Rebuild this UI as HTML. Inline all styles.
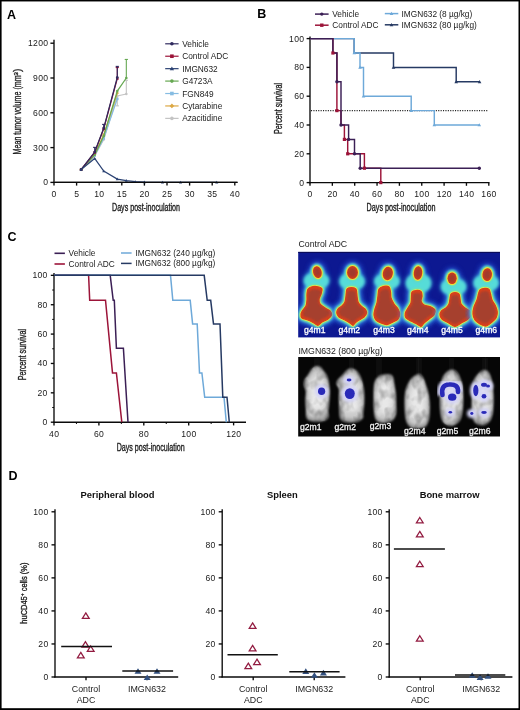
<!DOCTYPE html>
<html><head><meta charset="utf-8"><style>
html,body{margin:0;padding:0;background:#fff;overflow:hidden;width:520px;height:710px;}
svg{display:block;font-family:"Liberation Sans", sans-serif;filter:blur(0.3px);}
</style></head><body>
<svg width="520" height="710" viewBox="0 0 520 710">
<rect width="520" height="710" fill="#fff"/>
<text x="7.00" y="18.80" font-size="12.5" text-anchor="start" font-weight="bold" fill="#000" >A</text>
<text x="257.30" y="17.70" font-size="12.5" text-anchor="start" font-weight="bold" fill="#000" >B</text>
<text x="7.60" y="241.10" font-size="12.5" text-anchor="start" font-weight="bold" fill="#000" >C</text>
<text x="8.50" y="480.20" font-size="12.5" text-anchor="start" font-weight="bold" fill="#000" >D</text>
<line x1="54.00" y1="39.80" x2="54.00" y2="183.00" stroke="#0a0a0a" stroke-width="1.35" />
<line x1="53.40" y1="182.40" x2="237.50" y2="182.40" stroke="#0a0a0a" stroke-width="1.35" />
<line x1="50.40" y1="182.40" x2="54.00" y2="182.40" stroke="#0a0a0a" stroke-width="1.35" />
<text x="48.30" y="185.40" font-size="8.6" letter-spacing="0.3" text-anchor="end" fill="#1a1a1a">0</text>
<line x1="50.40" y1="147.60" x2="54.00" y2="147.60" stroke="#0a0a0a" stroke-width="1.35" />
<text x="48.30" y="150.60" font-size="8.6" letter-spacing="0.3" text-anchor="end" fill="#1a1a1a">300</text>
<line x1="50.40" y1="112.80" x2="54.00" y2="112.80" stroke="#0a0a0a" stroke-width="1.35" />
<text x="48.30" y="115.80" font-size="8.6" letter-spacing="0.3" text-anchor="end" fill="#1a1a1a">600</text>
<line x1="50.40" y1="78.00" x2="54.00" y2="78.00" stroke="#0a0a0a" stroke-width="1.35" />
<text x="48.30" y="81.00" font-size="8.6" letter-spacing="0.3" text-anchor="end" fill="#1a1a1a">900</text>
<line x1="50.40" y1="43.20" x2="54.00" y2="43.20" stroke="#0a0a0a" stroke-width="1.35" />
<text x="48.30" y="46.20" font-size="8.6" letter-spacing="0.3" text-anchor="end" fill="#1a1a1a">1200</text>
<line x1="54.00" y1="182.40" x2="54.00" y2="185.60" stroke="#0a0a0a" stroke-width="1.35" />
<text x="54.15" y="196.80" font-size="8.6" letter-spacing="0.3" text-anchor="middle" fill="#1a1a1a">0</text>
<line x1="76.60" y1="182.40" x2="76.60" y2="185.60" stroke="#0a0a0a" stroke-width="1.35" />
<text x="76.75" y="196.80" font-size="8.6" letter-spacing="0.3" text-anchor="middle" fill="#1a1a1a">5</text>
<line x1="99.20" y1="182.40" x2="99.20" y2="185.60" stroke="#0a0a0a" stroke-width="1.35" />
<text x="99.35" y="196.80" font-size="8.6" letter-spacing="0.3" text-anchor="middle" fill="#1a1a1a">10</text>
<line x1="121.80" y1="182.40" x2="121.80" y2="185.60" stroke="#0a0a0a" stroke-width="1.35" />
<text x="121.95" y="196.80" font-size="8.6" letter-spacing="0.3" text-anchor="middle" fill="#1a1a1a">15</text>
<line x1="144.40" y1="182.40" x2="144.40" y2="185.60" stroke="#0a0a0a" stroke-width="1.35" />
<text x="144.55" y="196.80" font-size="8.6" letter-spacing="0.3" text-anchor="middle" fill="#1a1a1a">20</text>
<line x1="167.00" y1="182.40" x2="167.00" y2="185.60" stroke="#0a0a0a" stroke-width="1.35" />
<text x="167.15" y="196.80" font-size="8.6" letter-spacing="0.3" text-anchor="middle" fill="#1a1a1a">25</text>
<line x1="189.60" y1="182.40" x2="189.60" y2="185.60" stroke="#0a0a0a" stroke-width="1.35" />
<text x="189.75" y="196.80" font-size="8.6" letter-spacing="0.3" text-anchor="middle" fill="#1a1a1a">30</text>
<line x1="212.20" y1="182.40" x2="212.20" y2="185.60" stroke="#0a0a0a" stroke-width="1.35" />
<text x="212.35" y="196.80" font-size="8.6" letter-spacing="0.3" text-anchor="middle" fill="#1a1a1a">35</text>
<line x1="234.80" y1="182.40" x2="234.80" y2="185.60" stroke="#0a0a0a" stroke-width="1.35" />
<text x="234.95" y="196.80" font-size="8.6" letter-spacing="0.3" text-anchor="middle" fill="#1a1a1a">40</text>
<text x="112.00" y="211.00" font-size="10.3" text-anchor="start" font-weight="normal" fill="#1e1e1e" stroke="#1e1e1e" stroke-width="0.35" textLength="68" lengthAdjust="spacingAndGlyphs" >Days post-inoculation</text>
<text x="0" y="0" font-size="10.4" fill="#1e1e1e" stroke="#1e1e1e" stroke-width="0.35" transform="translate(21.2 154.4) rotate(-90)"><tspan textLength="79" lengthAdjust="spacingAndGlyphs">Mean tumor volume (mm</tspan><tspan font-size="6" dy="-3.5">3</tspan><tspan dy="3.5">)</tspan></text>
<polyline points="81.12,169.64 94.68,155.95 103.72,139.48 117.28,95.98 126.32,94.01" fill="none" stroke="#c4c4c4" stroke-width="1.25" stroke-linejoin="miter" />
<circle cx="81.12" cy="169.64" r="1.30" fill="#c4c4c4"/>
<circle cx="94.68" cy="155.95" r="1.30" fill="#c4c4c4"/>
<circle cx="103.72" cy="139.48" r="1.30" fill="#c4c4c4"/>
<circle cx="117.28" cy="95.98" r="1.30" fill="#c4c4c4"/>
<circle cx="126.32" cy="94.01" r="1.30" fill="#c4c4c4"/>
<line x1="117.28" y1="95.98" x2="117.28" y2="105.84" stroke="#c4c4c4" stroke-width="1.1" />
<line x1="115.68" y1="105.84" x2="118.88" y2="105.84" stroke="#c4c4c4" stroke-width="1.1" />
<line x1="126.32" y1="94.01" x2="126.32" y2="80.32" stroke="#c4c4c4" stroke-width="1.1" />
<line x1="124.72" y1="80.32" x2="127.92" y2="80.32" stroke="#c4c4c4" stroke-width="1.1" />
<polyline points="81.12,169.64 94.68,155.49 103.72,138.32 117.28,98.88" fill="none" stroke="#86bce2" stroke-width="1.25" stroke-linejoin="miter" />
<rect x="79.82" y="168.34" width="2.60" height="2.60" fill="#86bce2"/>
<rect x="93.38" y="154.19" width="2.60" height="2.60" fill="#86bce2"/>
<rect x="102.42" y="137.02" width="2.60" height="2.60" fill="#86bce2"/>
<rect x="115.98" y="97.58" width="2.60" height="2.60" fill="#86bce2"/>
<polyline points="81.12,169.64 94.68,154.56 103.72,134.84 117.28,93.08" fill="none" stroke="#dca844" stroke-width="1.25" stroke-linejoin="miter" />
<polygon points="81.12,167.95 82.81,169.64 81.12,171.33 79.43,169.64" fill="#dca844"/>
<polygon points="94.68,152.87 96.37,154.56 94.68,156.25 92.99,154.56" fill="#dca844"/>
<polygon points="103.72,133.15 105.41,134.84 103.72,136.53 102.03,134.84" fill="#dca844"/>
<polygon points="117.28,91.39 118.97,93.08 117.28,94.77 115.59,93.08" fill="#dca844"/>
<polyline points="81.12,169.64 94.68,154.79 103.72,136.00 117.28,91.11 126.32,78.00" fill="none" stroke="#66a852" stroke-width="1.25" stroke-linejoin="miter" />
<circle cx="81.12" cy="169.64" r="1.30" fill="#66a852"/>
<circle cx="94.68" cy="154.79" r="1.30" fill="#66a852"/>
<circle cx="103.72" cy="136.00" r="1.30" fill="#66a852"/>
<circle cx="117.28" cy="91.11" r="1.30" fill="#66a852"/>
<circle cx="126.32" cy="78.00" r="1.30" fill="#66a852"/>
<line x1="126.32" y1="78.00" x2="126.32" y2="59.44" stroke="#66a852" stroke-width="1.1" />
<line x1="124.72" y1="59.44" x2="127.92" y2="59.44" stroke="#66a852" stroke-width="1.1" />
<polyline points="81.12,169.64 94.68,152.47 103.72,128.81 117.28,78.58" fill="none" stroke="#9c1439" stroke-width="1.25" stroke-linejoin="miter" />
<rect x="79.82" y="168.34" width="2.60" height="2.60" fill="#9c1439"/>
<rect x="93.38" y="151.17" width="2.60" height="2.60" fill="#9c1439"/>
<rect x="102.42" y="127.51" width="2.60" height="2.60" fill="#9c1439"/>
<rect x="115.98" y="77.28" width="2.60" height="2.60" fill="#9c1439"/>
<line x1="117.28" y1="78.58" x2="117.28" y2="67.56" stroke="#9c1439" stroke-width="1.1" />
<line x1="115.68" y1="67.56" x2="118.88" y2="67.56" stroke="#9c1439" stroke-width="1.1" />
<polyline points="81.12,169.64 94.68,152.01 103.72,128.11 117.28,77.42" fill="none" stroke="#2f2a5e" stroke-width="1.25" stroke-linejoin="miter" />
<circle cx="81.12" cy="169.64" r="1.30" fill="#2f2a5e"/>
<circle cx="94.68" cy="152.01" r="1.30" fill="#2f2a5e"/>
<circle cx="103.72" cy="128.11" r="1.30" fill="#2f2a5e"/>
<circle cx="117.28" cy="77.42" r="1.30" fill="#2f2a5e"/>
<line x1="94.68" y1="152.01" x2="94.68" y2="147.37" stroke="#2f2a5e" stroke-width="1.1" />
<line x1="93.08" y1="147.37" x2="96.28" y2="147.37" stroke="#2f2a5e" stroke-width="1.1" />
<line x1="103.72" y1="128.11" x2="103.72" y2="124.40" stroke="#2f2a5e" stroke-width="1.1" />
<line x1="102.12" y1="124.40" x2="105.32" y2="124.40" stroke="#2f2a5e" stroke-width="1.1" />
<line x1="117.28" y1="77.42" x2="117.28" y2="66.40" stroke="#2f2a5e" stroke-width="1.1" />
<line x1="115.68" y1="66.40" x2="118.88" y2="66.40" stroke="#2f2a5e" stroke-width="1.1" />
<polyline points="81.12,169.64 94.68,158.50 103.72,171.15 117.28,179.15 126.32,180.66 135.36,181.70 144.40,182.17 162.48,182.28 180.56,182.28 216.72,182.28" fill="none" stroke="#2b4273" stroke-width="1.25" stroke-linejoin="miter" />
<polygon points="81.12,168.08 82.68,170.81 79.56,170.81" fill="#2b4273"/>
<polygon points="94.68,156.94 96.24,159.67 93.12,159.67" fill="#2b4273"/>
<polygon points="103.72,169.59 105.28,172.32 102.16,172.32" fill="#2b4273"/>
<polygon points="117.28,177.59 118.84,180.32 115.72,180.32" fill="#2b4273"/>
<polygon points="126.32,179.10 127.88,181.83 124.76,181.83" fill="#2b4273"/>
<polygon points="135.36,180.14 136.92,182.87 133.80,182.87" fill="#2b4273"/>
<polygon points="144.40,180.61 145.96,183.34 142.84,183.34" fill="#2b4273"/>
<polygon points="162.48,180.72 164.04,183.45 160.92,183.45" fill="#2b4273"/>
<polygon points="180.56,180.72 182.12,183.45 179.00,183.45" fill="#2b4273"/>
<polygon points="216.72,180.72 218.28,183.45 215.16,183.45" fill="#2b4273"/>
<line x1="55.00" y1="182.40" x2="237.50" y2="182.40" stroke="#0a0a0a" stroke-width="1.35" />
<line x1="165.20" y1="43.80" x2="178.60" y2="43.80" stroke="#2f2a5e" stroke-width="1.2" />
<circle cx="171.90" cy="43.80" r="1.80" fill="#2f2a5e"/>
<text x="182.20" y="46.80" font-size="8.3" text-anchor="start" font-weight="normal" fill="#222" >Vehicle</text>
<line x1="165.20" y1="56.23" x2="178.60" y2="56.23" stroke="#9c1439" stroke-width="1.2" />
<rect x="170.10" y="54.43" width="3.60" height="3.60" fill="#9c1439"/>
<text x="182.20" y="59.23" font-size="8.3" text-anchor="start" font-weight="normal" fill="#222" >Control ADC</text>
<line x1="165.20" y1="68.66" x2="178.60" y2="68.66" stroke="#2b4273" stroke-width="1.2" />
<polygon points="171.90,66.50 174.06,70.28 169.74,70.28" fill="#2b4273"/>
<text x="182.20" y="71.66" font-size="8.3" text-anchor="start" font-weight="normal" fill="#222" >IMGN632</text>
<line x1="165.20" y1="81.09" x2="178.60" y2="81.09" stroke="#66a852" stroke-width="1.2" />
<circle cx="171.90" cy="81.09" r="1.80" fill="#66a852"/>
<text x="182.20" y="84.09" font-size="8.3" text-anchor="start" font-weight="normal" fill="#222" >G4723A</text>
<line x1="165.20" y1="93.52" x2="178.60" y2="93.52" stroke="#86bce2" stroke-width="1.2" />
<rect x="170.10" y="91.72" width="3.60" height="3.60" fill="#86bce2"/>
<text x="182.20" y="96.52" font-size="8.3" text-anchor="start" font-weight="normal" fill="#222" >FGN849</text>
<line x1="165.20" y1="105.95" x2="178.60" y2="105.95" stroke="#dca844" stroke-width="1.2" />
<polygon points="171.90,103.61 174.24,105.95 171.90,108.29 169.56,105.95" fill="#dca844"/>
<text x="182.20" y="108.95" font-size="8.3" text-anchor="start" font-weight="normal" fill="#222" >Cytarabine</text>
<line x1="165.20" y1="118.38" x2="178.60" y2="118.38" stroke="#c4c4c4" stroke-width="1.2" />
<circle cx="171.90" cy="118.38" r="1.80" fill="#c4c4c4"/>
<text x="182.20" y="121.38" font-size="8.3" text-anchor="start" font-weight="normal" fill="#222" >Azacitidine</text>
<line x1="310.00" y1="36.40" x2="310.00" y2="183.20" stroke="#0a0a0a" stroke-width="1.35" />
<line x1="309.40" y1="182.60" x2="489.50" y2="182.60" stroke="#0a0a0a" stroke-width="1.35" />
<line x1="306.60" y1="182.60" x2="310.00" y2="182.60" stroke="#0a0a0a" stroke-width="1.35" />
<text x="304.30" y="185.60" font-size="8.6" letter-spacing="0.3" text-anchor="end" fill="#1a1a1a">0</text>
<line x1="306.60" y1="153.80" x2="310.00" y2="153.80" stroke="#0a0a0a" stroke-width="1.35" />
<text x="304.30" y="156.80" font-size="8.6" letter-spacing="0.3" text-anchor="end" fill="#1a1a1a">20</text>
<line x1="306.60" y1="125.00" x2="310.00" y2="125.00" stroke="#0a0a0a" stroke-width="1.35" />
<text x="304.30" y="128.00" font-size="8.6" letter-spacing="0.3" text-anchor="end" fill="#1a1a1a">40</text>
<line x1="306.60" y1="96.20" x2="310.00" y2="96.20" stroke="#0a0a0a" stroke-width="1.35" />
<text x="304.30" y="99.20" font-size="8.6" letter-spacing="0.3" text-anchor="end" fill="#1a1a1a">60</text>
<line x1="306.60" y1="67.40" x2="310.00" y2="67.40" stroke="#0a0a0a" stroke-width="1.35" />
<text x="304.30" y="70.40" font-size="8.6" letter-spacing="0.3" text-anchor="end" fill="#1a1a1a">80</text>
<line x1="306.60" y1="38.60" x2="310.00" y2="38.60" stroke="#0a0a0a" stroke-width="1.35" />
<text x="304.30" y="41.60" font-size="8.6" letter-spacing="0.3" text-anchor="end" fill="#1a1a1a">100</text>
<line x1="310.00" y1="182.60" x2="310.00" y2="185.80" stroke="#0a0a0a" stroke-width="1.35" />
<text x="310.15" y="196.80" font-size="8.6" letter-spacing="0.3" text-anchor="middle" fill="#1a1a1a">0</text>
<line x1="332.35" y1="182.60" x2="332.35" y2="185.80" stroke="#0a0a0a" stroke-width="1.35" />
<text x="332.50" y="196.80" font-size="8.6" letter-spacing="0.3" text-anchor="middle" fill="#1a1a1a">20</text>
<line x1="354.70" y1="182.60" x2="354.70" y2="185.80" stroke="#0a0a0a" stroke-width="1.35" />
<text x="354.85" y="196.80" font-size="8.6" letter-spacing="0.3" text-anchor="middle" fill="#1a1a1a">40</text>
<line x1="377.05" y1="182.60" x2="377.05" y2="185.80" stroke="#0a0a0a" stroke-width="1.35" />
<text x="377.20" y="196.80" font-size="8.6" letter-spacing="0.3" text-anchor="middle" fill="#1a1a1a">60</text>
<line x1="399.40" y1="182.60" x2="399.40" y2="185.80" stroke="#0a0a0a" stroke-width="1.35" />
<text x="399.55" y="196.80" font-size="8.6" letter-spacing="0.3" text-anchor="middle" fill="#1a1a1a">80</text>
<line x1="421.75" y1="182.60" x2="421.75" y2="185.80" stroke="#0a0a0a" stroke-width="1.35" />
<text x="421.90" y="196.80" font-size="8.6" letter-spacing="0.3" text-anchor="middle" fill="#1a1a1a">100</text>
<line x1="444.10" y1="182.60" x2="444.10" y2="185.80" stroke="#0a0a0a" stroke-width="1.35" />
<text x="444.25" y="196.80" font-size="8.6" letter-spacing="0.3" text-anchor="middle" fill="#1a1a1a">120</text>
<line x1="466.45" y1="182.60" x2="466.45" y2="185.80" stroke="#0a0a0a" stroke-width="1.35" />
<text x="466.60" y="196.80" font-size="8.6" letter-spacing="0.3" text-anchor="middle" fill="#1a1a1a">140</text>
<line x1="488.80" y1="182.60" x2="488.80" y2="185.80" stroke="#0a0a0a" stroke-width="1.35" />
<text x="488.95" y="196.80" font-size="8.6" letter-spacing="0.3" text-anchor="middle" fill="#1a1a1a">160</text>
<text x="366.60" y="210.90" font-size="10.3" text-anchor="start" font-weight="normal" fill="#1e1e1e" stroke="#1e1e1e" stroke-width="0.35" textLength="68.8" lengthAdjust="spacingAndGlyphs" >Days post-inoculation</text>
<text x="282.00" y="134.00" font-size="10.0" text-anchor="start" font-weight="normal" fill="#1e1e1e" stroke="#1e1e1e" stroke-width="0.35" textLength="51" lengthAdjust="spacingAndGlyphs" transform="rotate(-90 282.00 134.00)">Percent survival</text>
<line x1="311.00" y1="110.60" x2="487.8" y2="110.60" stroke="#222" stroke-width="1.1" stroke-dasharray="1.1 1.3"/>
<polyline points="310.00,38.60 354.20,38.60 354.20,53.00 393.50,53.00 393.50,67.40 456.20,67.40 456.20,81.80 479.60,81.80" fill="none" stroke="#263a63" stroke-width="1.45" stroke-linejoin="miter" />
<polyline points="310.00,38.60 354.20,38.60 354.20,53.00 360.00,53.00 360.00,67.40 363.50,67.40 363.50,96.20 411.20,96.20 411.20,110.60 434.30,110.60 434.30,125.00 479.30,125.00" fill="none" stroke="#6ea9d9" stroke-width="1.45" stroke-linejoin="miter" />
<polyline points="310.00,38.60 332.90,38.60 332.90,53.00 336.90,53.00 336.90,110.60 341.00,110.60 341.00,125.00 344.40,125.00 344.40,139.40 347.70,139.40 347.70,153.80 364.40,153.80 364.40,168.20 380.80,168.20 380.80,182.60" fill="none" stroke="#9c1439" stroke-width="1.45" stroke-linejoin="miter" />
<polyline points="310.00,38.60 332.90,38.60 332.90,53.00 336.90,53.00 336.90,81.80 341.00,81.80 341.00,125.00 348.60,125.00 348.60,139.40 354.50,139.40 354.50,153.80 360.20,153.80 360.20,168.20 479.30,168.20" fill="none" stroke="#3b1f55" stroke-width="1.45" stroke-linejoin="miter" />
<polygon points="393.50,65.60 395.30,68.75 391.70,68.75" fill="#263a63"/>
<polygon points="456.20,80.00 458.00,83.15 454.40,83.15" fill="#263a63"/>
<polygon points="479.60,80.00 481.40,83.15 477.80,83.15" fill="#263a63"/>
<polygon points="354.20,51.20 356.00,54.35 352.40,54.35" fill="#6ea9d9"/>
<polygon points="360.00,65.60 361.80,68.75 358.20,68.75" fill="#6ea9d9"/>
<polygon points="363.50,94.40 365.30,97.55 361.70,97.55" fill="#6ea9d9"/>
<polygon points="411.20,108.80 413.00,111.95 409.40,111.95" fill="#6ea9d9"/>
<polygon points="434.30,123.20 436.10,126.35 432.50,126.35" fill="#6ea9d9"/>
<polygon points="479.30,123.20 481.10,126.35 477.50,126.35" fill="#6ea9d9"/>
<circle cx="336.90" cy="81.80" r="1.70" fill="#3b1f55"/>
<circle cx="341.00" cy="125.00" r="1.70" fill="#3b1f55"/>
<circle cx="348.60" cy="139.40" r="1.70" fill="#3b1f55"/>
<circle cx="354.50" cy="153.80" r="1.70" fill="#3b1f55"/>
<circle cx="360.20" cy="168.20" r="1.70" fill="#3b1f55"/>
<circle cx="479.30" cy="168.20" r="1.70" fill="#3b1f55"/>
<rect x="331.30" y="51.40" width="3.20" height="3.20" fill="#9c1439"/>
<rect x="335.30" y="109.00" width="3.20" height="3.20" fill="#9c1439"/>
<rect x="342.80" y="137.80" width="3.20" height="3.20" fill="#9c1439"/>
<rect x="346.10" y="152.20" width="3.20" height="3.20" fill="#9c1439"/>
<rect x="362.80" y="166.60" width="3.20" height="3.20" fill="#9c1439"/>
<rect x="379.20" y="181.00" width="3.20" height="3.20" fill="#9c1439"/>
<line x1="315.00" y1="14.10" x2="328.60" y2="14.10" stroke="#3b1f55" stroke-width="1.5" />
<circle cx="321.80" cy="14.10" r="1.70" fill="#3b1f55"/>
<text x="332.30" y="17.10" font-size="8.3" text-anchor="start" font-weight="normal" fill="#222" >Vehicle</text>
<line x1="315.00" y1="25.20" x2="328.60" y2="25.20" stroke="#9c1439" stroke-width="1.5" />
<rect x="320.10" y="23.50" width="3.40" height="3.40" fill="#9c1439"/>
<text x="332.30" y="28.20" font-size="8.3" text-anchor="start" font-weight="normal" fill="#222" >Control ADC</text>
<line x1="384.80" y1="13.60" x2="398.30" y2="13.60" stroke="#6ea9d9" stroke-width="1.5" />
<polygon points="391.50,11.80 393.30,14.95 389.70,14.95" fill="#6ea9d9"/>
<text x="401.50" y="16.60" font-size="8.3" text-anchor="start" font-weight="normal" fill="#222" >IMGN632 (8 µg/kg)</text>
<line x1="384.80" y1="24.80" x2="398.30" y2="24.80" stroke="#263a63" stroke-width="1.5" />
<polygon points="391.50,23.00 393.30,26.15 389.70,26.15" fill="#263a63"/>
<text x="401.50" y="27.80" font-size="8.3" text-anchor="start" font-weight="normal" fill="#222" >IMGN632 (80 µg/kg)</text>
<line x1="54.00" y1="272.95" x2="54.00" y2="422.80" stroke="#0a0a0a" stroke-width="1.35" />
<line x1="53.40" y1="422.20" x2="246.00" y2="422.20" stroke="#0a0a0a" stroke-width="1.35" />
<line x1="50.80" y1="422.20" x2="54.00" y2="422.20" stroke="#0a0a0a" stroke-width="1.35" />
<text x="47.70" y="425.20" font-size="8.6" letter-spacing="0.3" text-anchor="end" fill="#1a1a1a">0</text>
<line x1="52.20" y1="407.51" x2="54.00" y2="407.51" stroke="#0a0a0a" stroke-width="1.0" />
<line x1="50.80" y1="392.83" x2="54.00" y2="392.83" stroke="#0a0a0a" stroke-width="1.35" />
<text x="47.70" y="395.83" font-size="8.6" letter-spacing="0.3" text-anchor="end" fill="#1a1a1a">20</text>
<line x1="52.20" y1="378.14" x2="54.00" y2="378.14" stroke="#0a0a0a" stroke-width="1.0" />
<line x1="50.80" y1="363.46" x2="54.00" y2="363.46" stroke="#0a0a0a" stroke-width="1.35" />
<text x="47.70" y="366.46" font-size="8.6" letter-spacing="0.3" text-anchor="end" fill="#1a1a1a">40</text>
<line x1="52.20" y1="348.77" x2="54.00" y2="348.77" stroke="#0a0a0a" stroke-width="1.0" />
<line x1="50.80" y1="334.09" x2="54.00" y2="334.09" stroke="#0a0a0a" stroke-width="1.35" />
<text x="47.70" y="337.09" font-size="8.6" letter-spacing="0.3" text-anchor="end" fill="#1a1a1a">60</text>
<line x1="52.20" y1="319.40" x2="54.00" y2="319.40" stroke="#0a0a0a" stroke-width="1.0" />
<line x1="50.80" y1="304.72" x2="54.00" y2="304.72" stroke="#0a0a0a" stroke-width="1.35" />
<text x="47.70" y="307.72" font-size="8.6" letter-spacing="0.3" text-anchor="end" fill="#1a1a1a">80</text>
<line x1="52.20" y1="290.03" x2="54.00" y2="290.03" stroke="#0a0a0a" stroke-width="1.0" />
<line x1="50.80" y1="275.35" x2="54.00" y2="275.35" stroke="#0a0a0a" stroke-width="1.35" />
<text x="47.70" y="278.35" font-size="8.6" letter-spacing="0.3" text-anchor="end" fill="#1a1a1a">100</text>
<line x1="54.00" y1="422.20" x2="54.00" y2="425.40" stroke="#0a0a0a" stroke-width="1.35" />
<text x="54.15" y="436.80" font-size="8.6" letter-spacing="0.3" text-anchor="middle" fill="#1a1a1a">40</text>
<line x1="76.45" y1="422.20" x2="76.45" y2="424.00" stroke="#0a0a0a" stroke-width="1.0" />
<line x1="98.90" y1="422.20" x2="98.90" y2="425.40" stroke="#0a0a0a" stroke-width="1.35" />
<text x="99.05" y="436.80" font-size="8.6" letter-spacing="0.3" text-anchor="middle" fill="#1a1a1a">60</text>
<line x1="121.35" y1="422.20" x2="121.35" y2="424.00" stroke="#0a0a0a" stroke-width="1.0" />
<line x1="143.80" y1="422.20" x2="143.80" y2="425.40" stroke="#0a0a0a" stroke-width="1.35" />
<text x="143.95" y="436.80" font-size="8.6" letter-spacing="0.3" text-anchor="middle" fill="#1a1a1a">80</text>
<line x1="166.25" y1="422.20" x2="166.25" y2="424.00" stroke="#0a0a0a" stroke-width="1.0" />
<line x1="188.70" y1="422.20" x2="188.70" y2="425.40" stroke="#0a0a0a" stroke-width="1.35" />
<text x="188.85" y="436.80" font-size="8.6" letter-spacing="0.3" text-anchor="middle" fill="#1a1a1a">100</text>
<line x1="211.15" y1="422.20" x2="211.15" y2="424.00" stroke="#0a0a0a" stroke-width="1.0" />
<line x1="233.60" y1="422.20" x2="233.60" y2="425.40" stroke="#0a0a0a" stroke-width="1.35" />
<text x="233.75" y="436.80" font-size="8.6" letter-spacing="0.3" text-anchor="middle" fill="#1a1a1a">120</text>
<text x="116.70" y="450.80" font-size="10.3" text-anchor="start" font-weight="normal" fill="#1e1e1e" stroke="#1e1e1e" stroke-width="0.35" textLength="68" lengthAdjust="spacingAndGlyphs" >Days post-inoculation</text>
<text x="25.60" y="380.30" font-size="10.0" text-anchor="start" font-weight="normal" fill="#1e1e1e" stroke="#1e1e1e" stroke-width="0.35" textLength="51.4" lengthAdjust="spacingAndGlyphs" transform="rotate(-90 25.60 380.30)">Percent survival</text>
<polyline points="54.00,275.35 88.60,275.35 89.70,300.30 105.50,300.30 112.50,372.90 116.40,372.90 121.80,422.20" fill="none" stroke="#9c1439" stroke-width="1.5" stroke-linejoin="miter" />
<polyline points="54.00,275.35 110.20,275.35 113.20,300.30 114.30,300.30 116.40,348.30 123.40,348.30 128.00,422.20" fill="none" stroke="#3b1f55" stroke-width="1.5" stroke-linejoin="miter" />
<polyline points="54.00,275.35 170.50,275.35 172.80,300.30 190.20,300.30 192.60,323.90 197.20,323.90 199.50,372.90 201.90,372.90 204.70,397.30 224.00,397.30 226.30,422.20" fill="none" stroke="#6ea9d9" stroke-width="1.5" stroke-linejoin="miter" />
<polyline points="54.00,275.35 204.20,275.35 207.20,300.30 210.70,300.30 213.50,323.90 220.00,323.90 222.80,397.30 227.00,397.30 229.30,422.20" fill="none" stroke="#263a63" stroke-width="1.5" stroke-linejoin="miter" />
<line x1="54.50" y1="253.30" x2="64.90" y2="253.30" stroke="#3b1f55" stroke-width="1.6" />
<text x="68.60" y="256.30" font-size="8.3" text-anchor="start" font-weight="normal" fill="#222" >Vehicle</text>
<line x1="54.50" y1="264.00" x2="64.90" y2="264.00" stroke="#9c1439" stroke-width="1.6" />
<text x="68.60" y="267.00" font-size="8.3" text-anchor="start" font-weight="normal" fill="#222" >Control ADC</text>
<line x1="121.00" y1="253.00" x2="131.60" y2="253.00" stroke="#6ea9d9" stroke-width="1.5" />
<text x="135.40" y="256.00" font-size="8.3" text-anchor="start" font-weight="normal" fill="#222" >IMGN632 (240 µg/kg)</text>
<line x1="121.00" y1="263.40" x2="131.60" y2="263.40" stroke="#263a63" stroke-width="1.5" />
<text x="135.40" y="266.40" font-size="8.3" text-anchor="start" font-weight="normal" fill="#222" >IMGN632 (800 µg/kg)</text>
<text x="298.50" y="247.00" font-size="8.75" text-anchor="start" font-weight="normal" fill="#222" >Control ADC</text>
<text x="298.40" y="354.40" font-size="8.75" text-anchor="start" font-weight="normal" fill="#222" >IMGN632 (800 µg/kg)</text>
<defs><filter id="b1" x="-30%" y="-30%" width="160%" height="160%"><feGaussianBlur stdDeviation="1.6"/></filter><filter id="b2" x="-30%" y="-30%" width="160%" height="160%"><feGaussianBlur stdDeviation="0.8"/></filter><filter id="b3" x="-30%" y="-30%" width="160%" height="160%"><feGaussianBlur stdDeviation="2.4"/></filter><filter id="b4" x="-30%" y="-30%" width="160%" height="160%"><feGaussianBlur stdDeviation="0.5"/></filter><clipPath id="clipT"><rect x="298.2" y="251.9" width="201.8" height="85.5"/></clipPath><clipPath id="clipB"><rect x="298.2" y="357.0" width="201.8" height="79.5"/></clipPath></defs>
<rect x="298.2" y="251.9" width="201.8" height="85.5" fill="#0d1891"/><rect x="298.2" y="251.9" width="201.8" height="1.1" fill="#0a0c5a"/>
<g clip-path="url(#clipT)">
<g filter="url(#b3)" opacity="0.75"><path d="M308.00,289.00 C308.80,288.00 311.53,286.77 313.00,286.50 C314.47,286.23 317.80,286.67 319.00,287.00 C320.20,287.33 321.73,288.07 322.00,289.00 C322.27,289.93 321.40,292.67 321.00,294.00 C320.60,295.33 319.13,297.67 319.00,299.00 C318.87,300.33 319.20,302.80 320.00,304.00 C320.80,305.20 323.67,307.07 325.00,308.00 C326.33,308.93 329.13,310.07 330.00,311.00 C330.87,311.93 331.77,313.93 331.50,315.00 C331.23,316.07 329.27,318.07 328.00,319.00 C326.73,319.93 323.33,321.16 322.00,322.00 C320.67,322.84 319.07,325.17 318.00,325.30 C316.93,325.43 315.33,323.71 314.00,323.00 C312.67,322.29 309.60,320.67 308.00,320.00 C306.40,319.33 302.93,318.80 302.00,318.00 C301.07,317.20 300.87,315.07 301.00,314.00 C301.13,312.93 302.33,311.07 303.00,310.00 C303.67,308.93 305.47,307.33 306.00,306.00 C306.53,304.67 306.87,301.60 307.00,300.00 C307.13,298.40 306.87,295.47 307.00,294.00 C307.13,292.53 307.20,290.00 308.00,289.00 Z" fill="#2a5ae0" stroke="#2a5ae0" stroke-width="10"/><ellipse cx="317.40" cy="272.20" rx="9.20" ry="11.00" fill="#2a5ae0"/></g>
<g filter="url(#b3)"><path d="M308.00,289.00 C308.80,288.00 311.53,286.77 313.00,286.50 C314.47,286.23 317.80,286.67 319.00,287.00 C320.20,287.33 321.73,288.07 322.00,289.00 C322.27,289.93 321.40,292.67 321.00,294.00 C320.60,295.33 319.13,297.67 319.00,299.00 C318.87,300.33 319.20,302.80 320.00,304.00 C320.80,305.20 323.67,307.07 325.00,308.00 C326.33,308.93 329.13,310.07 330.00,311.00 C330.87,311.93 331.77,313.93 331.50,315.00 C331.23,316.07 329.27,318.07 328.00,319.00 C326.73,319.93 323.33,321.16 322.00,322.00 C320.67,322.84 319.07,325.17 318.00,325.30 C316.93,325.43 315.33,323.71 314.00,323.00 C312.67,322.29 309.60,320.67 308.00,320.00 C306.40,319.33 302.93,318.80 302.00,318.00 C301.07,317.20 300.87,315.07 301.00,314.00 C301.13,312.93 302.33,311.07 303.00,310.00 C303.67,308.93 305.47,307.33 306.00,306.00 C306.53,304.67 306.87,301.60 307.00,300.00 C307.13,298.40 306.87,295.47 307.00,294.00 C307.13,292.53 307.20,290.00 308.00,289.00 Z" fill="#38b4ee" stroke="#38b4ee" stroke-width="5"/><ellipse cx="316.43" cy="280.35" rx="12.5" ry="9" fill="#3cc0ee"/></g>
<g filter="url(#b1)"><ellipse cx="316.43" cy="280.85" rx="12.5" ry="8.65" fill="#56dcd8"/><ellipse cx="317.40" cy="272.20" rx="6.80" ry="8.60" fill="#48d0e8" transform="rotate(-15 317.4 272.2)"/><path d="M308.00,289.00 C308.80,288.00 311.53,286.77 313.00,286.50 C314.47,286.23 317.80,286.67 319.00,287.00 C320.20,287.33 321.73,288.07 322.00,289.00 C322.27,289.93 321.40,292.67 321.00,294.00 C320.60,295.33 319.13,297.67 319.00,299.00 C318.87,300.33 319.20,302.80 320.00,304.00 C320.80,305.20 323.67,307.07 325.00,308.00 C326.33,308.93 329.13,310.07 330.00,311.00 C330.87,311.93 331.77,313.93 331.50,315.00 C331.23,316.07 329.27,318.07 328.00,319.00 C326.73,319.93 323.33,321.16 322.00,322.00 C320.67,322.84 319.07,325.17 318.00,325.30 C316.93,325.43 315.33,323.71 314.00,323.00 C312.67,322.29 309.60,320.67 308.00,320.00 C306.40,319.33 302.93,318.80 302.00,318.00 C301.07,317.20 300.87,315.07 301.00,314.00 C301.13,312.93 302.33,311.07 303.00,310.00 C303.67,308.93 305.47,307.33 306.00,306.00 C306.53,304.67 306.87,301.60 307.00,300.00 C307.13,298.40 306.87,295.47 307.00,294.00 C307.13,292.53 307.20,290.00 308.00,289.00 Z" fill="none" stroke="#56d8e0" stroke-width="3.4"/></g>
<g filter="url(#b2)"><path d="M308.00,289.00 C308.80,288.00 311.53,286.77 313.00,286.50 C314.47,286.23 317.80,286.67 319.00,287.00 C320.20,287.33 321.73,288.07 322.00,289.00 C322.27,289.93 321.40,292.67 321.00,294.00 C320.60,295.33 319.13,297.67 319.00,299.00 C318.87,300.33 319.20,302.80 320.00,304.00 C320.80,305.20 323.67,307.07 325.00,308.00 C326.33,308.93 329.13,310.07 330.00,311.00 C330.87,311.93 331.77,313.93 331.50,315.00 C331.23,316.07 329.27,318.07 328.00,319.00 C326.73,319.93 323.33,321.16 322.00,322.00 C320.67,322.84 319.07,325.17 318.00,325.30 C316.93,325.43 315.33,323.71 314.00,323.00 C312.67,322.29 309.60,320.67 308.00,320.00 C306.40,319.33 302.93,318.80 302.00,318.00 C301.07,317.20 300.87,315.07 301.00,314.00 C301.13,312.93 302.33,311.07 303.00,310.00 C303.67,308.93 305.47,307.33 306.00,306.00 C306.53,304.67 306.87,301.60 307.00,300.00 C307.13,298.40 306.87,295.47 307.00,294.00 C307.13,292.53 307.20,290.00 308.00,289.00 Z" fill="#7ee890" stroke="#7ee890" stroke-width="4.2"/><ellipse cx="317.40" cy="272.20" rx="6.10" ry="7.90" fill="#7ee890" transform="rotate(-15 317.4 272.2)"/></g>
<g filter="url(#b4)"><path d="M308.00,289.00 C308.80,288.00 311.53,286.77 313.00,286.50 C314.47,286.23 317.80,286.67 319.00,287.00 C320.20,287.33 321.73,288.07 322.00,289.00 C322.27,289.93 321.40,292.67 321.00,294.00 C320.60,295.33 319.13,297.67 319.00,299.00 C318.87,300.33 319.20,302.80 320.00,304.00 C320.80,305.20 323.67,307.07 325.00,308.00 C326.33,308.93 329.13,310.07 330.00,311.00 C330.87,311.93 331.77,313.93 331.50,315.00 C331.23,316.07 329.27,318.07 328.00,319.00 C326.73,319.93 323.33,321.16 322.00,322.00 C320.67,322.84 319.07,325.17 318.00,325.30 C316.93,325.43 315.33,323.71 314.00,323.00 C312.67,322.29 309.60,320.67 308.00,320.00 C306.40,319.33 302.93,318.80 302.00,318.00 C301.07,317.20 300.87,315.07 301.00,314.00 C301.13,312.93 302.33,311.07 303.00,310.00 C303.67,308.93 305.47,307.33 306.00,306.00 C306.53,304.67 306.87,301.60 307.00,300.00 C307.13,298.40 306.87,295.47 307.00,294.00 C307.13,292.53 307.20,290.00 308.00,289.00 Z" fill="#eee23c" stroke="#e6ec4a" stroke-width="2.6"/><ellipse cx="317.40" cy="272.20" rx="5.30" ry="7.10" fill="#eee23c" transform="rotate(-15 317.4 272.2)"/></g>
<g filter="url(#b4)"><path d="M308.00,289.00 C308.80,288.00 311.53,286.77 313.00,286.50 C314.47,286.23 317.80,286.67 319.00,287.00 C320.20,287.33 321.73,288.07 322.00,289.00 C322.27,289.93 321.40,292.67 321.00,294.00 C320.60,295.33 319.13,297.67 319.00,299.00 C318.87,300.33 319.20,302.80 320.00,304.00 C320.80,305.20 323.67,307.07 325.00,308.00 C326.33,308.93 329.13,310.07 330.00,311.00 C330.87,311.93 331.77,313.93 331.50,315.00 C331.23,316.07 329.27,318.07 328.00,319.00 C326.73,319.93 323.33,321.16 322.00,322.00 C320.67,322.84 319.07,325.17 318.00,325.30 C316.93,325.43 315.33,323.71 314.00,323.00 C312.67,322.29 309.60,320.67 308.00,320.00 C306.40,319.33 302.93,318.80 302.00,318.00 C301.07,317.20 300.87,315.07 301.00,314.00 C301.13,312.93 302.33,311.07 303.00,310.00 C303.67,308.93 305.47,307.33 306.00,306.00 C306.53,304.67 306.87,301.60 307.00,300.00 C307.13,298.40 306.87,295.47 307.00,294.00 C307.13,292.53 307.20,290.00 308.00,289.00 Z" fill="#d8401c" stroke="#d8401c" stroke-width="1.2"/><ellipse cx="317.40" cy="272.20" rx="4.20" ry="6.00" fill="#d03a1c" transform="rotate(-15 317.4 272.2)"/></g>
<g filter="url(#b2)"><path d="M309.04,291.43 C309.90,290.36 311.77,289.57 313.34,289.28 C314.92,289.00 317.21,289.35 318.50,289.71 C319.79,290.07 320.80,290.43 321.08,291.43 C321.37,292.44 320.65,294.30 320.22,295.73 C319.79,297.17 318.65,298.60 318.50,300.03 C318.36,301.47 318.50,303.04 319.36,304.33 C320.22,305.62 322.23,306.77 323.66,307.77 C325.10,308.78 327.03,309.35 327.96,310.35 C328.89,311.36 329.54,312.65 329.25,313.79 C328.97,314.94 327.61,316.23 326.24,317.23 C324.88,318.24 322.52,318.91 321.08,319.81 C319.65,320.72 318.79,322.51 317.64,322.65 C316.50,322.79 315.64,321.43 314.20,320.67 C312.77,319.91 310.76,318.81 309.04,318.09 C307.32,317.38 304.89,317.23 303.88,316.37 C302.88,315.51 302.88,314.08 303.02,312.93 C303.17,311.79 304.03,310.64 304.74,309.49 C305.46,308.35 306.75,307.49 307.32,306.05 C307.90,304.62 308.04,302.61 308.18,300.89 C308.33,299.17 308.04,297.31 308.18,295.73 C308.33,294.16 308.18,292.51 309.04,291.43 Z" fill="#a6402e"/><ellipse cx="317.40" cy="272.20" rx="3.02" ry="4.32" fill="#a23a2c" transform="rotate(-15 317.4 272.2)"/></g>
<g filter="url(#b3)" opacity="0.75"><path d="M347.00,289.00 C347.73,287.87 350.30,287.50 351.50,287.50 C352.70,287.50 355.27,287.87 356.00,289.00 C356.73,290.13 356.73,294.27 357.00,296.00 C357.27,297.73 357.47,300.67 358.00,302.00 C358.53,303.33 360.07,305.07 361.00,306.00 C361.93,306.93 364.25,308.07 365.00,309.00 C365.75,309.93 366.73,311.93 366.60,313.00 C366.47,314.07 365.01,316.07 364.00,317.00 C362.99,317.93 360.20,319.20 359.00,320.00 C357.80,320.80 355.80,322.28 355.00,323.00 C354.20,323.72 353.67,325.40 353.00,325.40 C352.33,325.40 351.07,323.72 350.00,323.00 C348.93,322.28 346.47,320.80 345.00,320.00 C343.53,319.20 340.09,317.93 339.00,317.00 C337.91,316.07 336.93,314.07 336.80,313.00 C336.67,311.93 337.31,309.93 338.00,309.00 C338.69,308.07 341.07,306.93 342.00,306.00 C342.93,305.07 344.47,303.33 345.00,302.00 C345.53,300.67 345.73,297.73 346.00,296.00 C346.27,294.27 346.27,290.13 347.00,289.00 Z" fill="#2a5ae0" stroke="#2a5ae0" stroke-width="10"/><ellipse cx="352.50" cy="272.50" rx="10.40" ry="11.40" fill="#2a5ae0"/></g>
<g filter="url(#b3)"><path d="M347.00,289.00 C347.73,287.87 350.30,287.50 351.50,287.50 C352.70,287.50 355.27,287.87 356.00,289.00 C356.73,290.13 356.73,294.27 357.00,296.00 C357.27,297.73 357.47,300.67 358.00,302.00 C358.53,303.33 360.07,305.07 361.00,306.00 C361.93,306.93 364.25,308.07 365.00,309.00 C365.75,309.93 366.73,311.93 366.60,313.00 C366.47,314.07 365.01,316.07 364.00,317.00 C362.99,317.93 360.20,319.20 359.00,320.00 C357.80,320.80 355.80,322.28 355.00,323.00 C354.20,323.72 353.67,325.40 353.00,325.40 C352.33,325.40 351.07,323.72 350.00,323.00 C348.93,322.28 346.47,320.80 345.00,320.00 C343.53,319.20 340.09,317.93 339.00,317.00 C337.91,316.07 336.93,314.07 336.80,313.00 C336.67,311.93 337.31,309.93 338.00,309.00 C338.69,308.07 341.07,306.93 342.00,306.00 C342.93,305.07 344.47,303.33 345.00,302.00 C345.53,300.67 345.73,297.73 346.00,296.00 C346.27,294.27 346.27,290.13 347.00,289.00 Z" fill="#38b4ee" stroke="#38b4ee" stroke-width="5"/><ellipse cx="352.12" cy="281.00" rx="12.5" ry="9" fill="#3cc0ee"/></g>
<g filter="url(#b1)"><ellipse cx="352.12" cy="281.50" rx="12.5" ry="9.00" fill="#56dcd8"/><ellipse cx="352.50" cy="272.50" rx="8.00" ry="9.00" fill="#48d0e8" transform="rotate(0 352.5 272.5)"/><path d="M347.00,289.00 C347.73,287.87 350.30,287.50 351.50,287.50 C352.70,287.50 355.27,287.87 356.00,289.00 C356.73,290.13 356.73,294.27 357.00,296.00 C357.27,297.73 357.47,300.67 358.00,302.00 C358.53,303.33 360.07,305.07 361.00,306.00 C361.93,306.93 364.25,308.07 365.00,309.00 C365.75,309.93 366.73,311.93 366.60,313.00 C366.47,314.07 365.01,316.07 364.00,317.00 C362.99,317.93 360.20,319.20 359.00,320.00 C357.80,320.80 355.80,322.28 355.00,323.00 C354.20,323.72 353.67,325.40 353.00,325.40 C352.33,325.40 351.07,323.72 350.00,323.00 C348.93,322.28 346.47,320.80 345.00,320.00 C343.53,319.20 340.09,317.93 339.00,317.00 C337.91,316.07 336.93,314.07 336.80,313.00 C336.67,311.93 337.31,309.93 338.00,309.00 C338.69,308.07 341.07,306.93 342.00,306.00 C342.93,305.07 344.47,303.33 345.00,302.00 C345.53,300.67 345.73,297.73 346.00,296.00 C346.27,294.27 346.27,290.13 347.00,289.00 Z" fill="none" stroke="#56d8e0" stroke-width="3.4"/></g>
<g filter="url(#b2)"><path d="M347.00,289.00 C347.73,287.87 350.30,287.50 351.50,287.50 C352.70,287.50 355.27,287.87 356.00,289.00 C356.73,290.13 356.73,294.27 357.00,296.00 C357.27,297.73 357.47,300.67 358.00,302.00 C358.53,303.33 360.07,305.07 361.00,306.00 C361.93,306.93 364.25,308.07 365.00,309.00 C365.75,309.93 366.73,311.93 366.60,313.00 C366.47,314.07 365.01,316.07 364.00,317.00 C362.99,317.93 360.20,319.20 359.00,320.00 C357.80,320.80 355.80,322.28 355.00,323.00 C354.20,323.72 353.67,325.40 353.00,325.40 C352.33,325.40 351.07,323.72 350.00,323.00 C348.93,322.28 346.47,320.80 345.00,320.00 C343.53,319.20 340.09,317.93 339.00,317.00 C337.91,316.07 336.93,314.07 336.80,313.00 C336.67,311.93 337.31,309.93 338.00,309.00 C338.69,308.07 341.07,306.93 342.00,306.00 C342.93,305.07 344.47,303.33 345.00,302.00 C345.53,300.67 345.73,297.73 346.00,296.00 C346.27,294.27 346.27,290.13 347.00,289.00 Z" fill="#7ee890" stroke="#7ee890" stroke-width="4.2"/><ellipse cx="352.50" cy="272.50" rx="7.30" ry="8.30" fill="#7ee890" transform="rotate(0 352.5 272.5)"/></g>
<g filter="url(#b4)"><path d="M347.00,289.00 C347.73,287.87 350.30,287.50 351.50,287.50 C352.70,287.50 355.27,287.87 356.00,289.00 C356.73,290.13 356.73,294.27 357.00,296.00 C357.27,297.73 357.47,300.67 358.00,302.00 C358.53,303.33 360.07,305.07 361.00,306.00 C361.93,306.93 364.25,308.07 365.00,309.00 C365.75,309.93 366.73,311.93 366.60,313.00 C366.47,314.07 365.01,316.07 364.00,317.00 C362.99,317.93 360.20,319.20 359.00,320.00 C357.80,320.80 355.80,322.28 355.00,323.00 C354.20,323.72 353.67,325.40 353.00,325.40 C352.33,325.40 351.07,323.72 350.00,323.00 C348.93,322.28 346.47,320.80 345.00,320.00 C343.53,319.20 340.09,317.93 339.00,317.00 C337.91,316.07 336.93,314.07 336.80,313.00 C336.67,311.93 337.31,309.93 338.00,309.00 C338.69,308.07 341.07,306.93 342.00,306.00 C342.93,305.07 344.47,303.33 345.00,302.00 C345.53,300.67 345.73,297.73 346.00,296.00 C346.27,294.27 346.27,290.13 347.00,289.00 Z" fill="#eee23c" stroke="#e6ec4a" stroke-width="2.6"/><ellipse cx="352.50" cy="272.50" rx="6.50" ry="7.50" fill="#eee23c" transform="rotate(0 352.5 272.5)"/></g>
<g filter="url(#b4)"><path d="M347.00,289.00 C347.73,287.87 350.30,287.50 351.50,287.50 C352.70,287.50 355.27,287.87 356.00,289.00 C356.73,290.13 356.73,294.27 357.00,296.00 C357.27,297.73 357.47,300.67 358.00,302.00 C358.53,303.33 360.07,305.07 361.00,306.00 C361.93,306.93 364.25,308.07 365.00,309.00 C365.75,309.93 366.73,311.93 366.60,313.00 C366.47,314.07 365.01,316.07 364.00,317.00 C362.99,317.93 360.20,319.20 359.00,320.00 C357.80,320.80 355.80,322.28 355.00,323.00 C354.20,323.72 353.67,325.40 353.00,325.40 C352.33,325.40 351.07,323.72 350.00,323.00 C348.93,322.28 346.47,320.80 345.00,320.00 C343.53,319.20 340.09,317.93 339.00,317.00 C337.91,316.07 336.93,314.07 336.80,313.00 C336.67,311.93 337.31,309.93 338.00,309.00 C338.69,308.07 341.07,306.93 342.00,306.00 C342.93,305.07 344.47,303.33 345.00,302.00 C345.53,300.67 345.73,297.73 346.00,296.00 C346.27,294.27 346.27,290.13 347.00,289.00 Z" fill="#d8401c" stroke="#d8401c" stroke-width="1.2"/><ellipse cx="352.50" cy="272.50" rx="5.40" ry="6.40" fill="#d03a1c" transform="rotate(0 352.5 272.5)"/></g>
<g filter="url(#b2)"><path d="M347.66,291.68 C348.45,290.46 350.24,290.39 351.53,290.39 C352.82,290.39 354.62,290.46 355.40,291.68 C356.19,292.90 355.98,295.84 356.26,297.70 C356.55,299.56 356.55,301.43 357.12,302.86 C357.70,304.29 358.70,305.30 359.70,306.30 C360.71,307.30 362.34,307.88 363.14,308.88 C363.95,309.88 364.66,311.17 364.52,312.32 C364.38,313.47 363.37,314.76 362.28,315.76 C361.19,316.76 359.27,317.48 357.98,318.34 C356.69,319.20 355.40,320.15 354.54,320.92 C353.68,321.69 353.54,322.98 352.82,322.98 C352.11,322.98 351.39,321.69 350.24,320.92 C349.10,320.15 347.52,319.20 345.94,318.34 C344.37,317.48 341.96,316.76 340.78,315.76 C339.61,314.76 339.04,313.47 338.89,312.32 C338.75,311.17 339.18,309.88 339.92,308.88 C340.67,307.88 342.36,307.30 343.36,306.30 C344.37,305.30 345.37,304.29 345.94,302.86 C346.52,301.43 346.52,299.56 346.80,297.70 C347.09,295.84 346.88,292.90 347.66,291.68 Z" fill="#a6402e"/><ellipse cx="352.50" cy="272.50" rx="3.89" ry="4.61" fill="#a23a2c" transform="rotate(0 352.5 272.5)"/></g>
<g filter="url(#b3)" opacity="0.75"><path d="M379.00,289.00 C379.80,287.71 382.67,286.57 384.00,286.30 C385.33,286.03 388.13,286.24 389.00,287.00 C389.87,287.76 390.23,290.53 390.50,292.00 C390.77,293.47 390.53,296.40 391.00,298.00 C391.47,299.60 393.07,302.53 394.00,304.00 C394.93,305.47 397.25,307.67 398.00,309.00 C398.75,310.33 399.60,312.67 399.60,314.00 C399.60,315.33 398.88,317.93 398.00,319.00 C397.12,320.07 394.47,321.24 393.00,322.00 C391.53,322.76 388.60,324.57 387.00,324.70 C385.40,324.83 382.47,323.63 381.00,323.00 C379.53,322.37 376.93,321.07 376.00,320.00 C375.07,318.93 374.13,316.47 374.00,315.00 C373.87,313.53 374.60,310.60 375.00,309.00 C375.40,307.40 376.60,304.73 377.00,303.00 C377.40,301.27 377.73,297.87 378.00,296.00 C378.27,294.13 378.20,290.29 379.00,289.00 Z" fill="#2a5ae0" stroke="#2a5ae0" stroke-width="10"/><ellipse cx="387.80" cy="273.50" rx="10.00" ry="11.70" fill="#2a5ae0"/></g>
<g filter="url(#b3)"><path d="M379.00,289.00 C379.80,287.71 382.67,286.57 384.00,286.30 C385.33,286.03 388.13,286.24 389.00,287.00 C389.87,287.76 390.23,290.53 390.50,292.00 C390.77,293.47 390.53,296.40 391.00,298.00 C391.47,299.60 393.07,302.53 394.00,304.00 C394.93,305.47 397.25,307.67 398.00,309.00 C398.75,310.33 399.60,312.67 399.60,314.00 C399.60,315.33 398.88,317.93 398.00,319.00 C397.12,320.07 394.47,321.24 393.00,322.00 C391.53,322.76 388.60,324.57 387.00,324.70 C385.40,324.83 382.47,323.63 381.00,323.00 C379.53,322.37 376.93,321.07 376.00,320.00 C375.07,318.93 374.13,316.47 374.00,315.00 C373.87,313.53 374.60,310.60 375.00,309.00 C375.40,307.40 376.60,304.73 377.00,303.00 C377.40,301.27 377.73,297.87 378.00,296.00 C378.27,294.13 378.20,290.29 379.00,289.00 Z" fill="#38b4ee" stroke="#38b4ee" stroke-width="5"/><ellipse cx="386.96" cy="280.90" rx="12.5" ry="9" fill="#3cc0ee"/></g>
<g filter="url(#b1)"><ellipse cx="386.96" cy="281.40" rx="12.5" ry="7.90" fill="#56dcd8"/><ellipse cx="387.80" cy="273.50" rx="7.60" ry="9.30" fill="#48d0e8" transform="rotate(10 387.8 273.5)"/><path d="M379.00,289.00 C379.80,287.71 382.67,286.57 384.00,286.30 C385.33,286.03 388.13,286.24 389.00,287.00 C389.87,287.76 390.23,290.53 390.50,292.00 C390.77,293.47 390.53,296.40 391.00,298.00 C391.47,299.60 393.07,302.53 394.00,304.00 C394.93,305.47 397.25,307.67 398.00,309.00 C398.75,310.33 399.60,312.67 399.60,314.00 C399.60,315.33 398.88,317.93 398.00,319.00 C397.12,320.07 394.47,321.24 393.00,322.00 C391.53,322.76 388.60,324.57 387.00,324.70 C385.40,324.83 382.47,323.63 381.00,323.00 C379.53,322.37 376.93,321.07 376.00,320.00 C375.07,318.93 374.13,316.47 374.00,315.00 C373.87,313.53 374.60,310.60 375.00,309.00 C375.40,307.40 376.60,304.73 377.00,303.00 C377.40,301.27 377.73,297.87 378.00,296.00 C378.27,294.13 378.20,290.29 379.00,289.00 Z" fill="none" stroke="#56d8e0" stroke-width="3.4"/></g>
<g filter="url(#b2)"><path d="M379.00,289.00 C379.80,287.71 382.67,286.57 384.00,286.30 C385.33,286.03 388.13,286.24 389.00,287.00 C389.87,287.76 390.23,290.53 390.50,292.00 C390.77,293.47 390.53,296.40 391.00,298.00 C391.47,299.60 393.07,302.53 394.00,304.00 C394.93,305.47 397.25,307.67 398.00,309.00 C398.75,310.33 399.60,312.67 399.60,314.00 C399.60,315.33 398.88,317.93 398.00,319.00 C397.12,320.07 394.47,321.24 393.00,322.00 C391.53,322.76 388.60,324.57 387.00,324.70 C385.40,324.83 382.47,323.63 381.00,323.00 C379.53,322.37 376.93,321.07 376.00,320.00 C375.07,318.93 374.13,316.47 374.00,315.00 C373.87,313.53 374.60,310.60 375.00,309.00 C375.40,307.40 376.60,304.73 377.00,303.00 C377.40,301.27 377.73,297.87 378.00,296.00 C378.27,294.13 378.20,290.29 379.00,289.00 Z" fill="#7ee890" stroke="#7ee890" stroke-width="4.2"/><ellipse cx="387.80" cy="273.50" rx="6.90" ry="8.60" fill="#7ee890" transform="rotate(10 387.8 273.5)"/></g>
<g filter="url(#b4)"><path d="M379.00,289.00 C379.80,287.71 382.67,286.57 384.00,286.30 C385.33,286.03 388.13,286.24 389.00,287.00 C389.87,287.76 390.23,290.53 390.50,292.00 C390.77,293.47 390.53,296.40 391.00,298.00 C391.47,299.60 393.07,302.53 394.00,304.00 C394.93,305.47 397.25,307.67 398.00,309.00 C398.75,310.33 399.60,312.67 399.60,314.00 C399.60,315.33 398.88,317.93 398.00,319.00 C397.12,320.07 394.47,321.24 393.00,322.00 C391.53,322.76 388.60,324.57 387.00,324.70 C385.40,324.83 382.47,323.63 381.00,323.00 C379.53,322.37 376.93,321.07 376.00,320.00 C375.07,318.93 374.13,316.47 374.00,315.00 C373.87,313.53 374.60,310.60 375.00,309.00 C375.40,307.40 376.60,304.73 377.00,303.00 C377.40,301.27 377.73,297.87 378.00,296.00 C378.27,294.13 378.20,290.29 379.00,289.00 Z" fill="#eee23c" stroke="#e6ec4a" stroke-width="2.6"/><ellipse cx="387.80" cy="273.50" rx="6.10" ry="7.80" fill="#eee23c" transform="rotate(10 387.8 273.5)"/></g>
<g filter="url(#b4)"><path d="M379.00,289.00 C379.80,287.71 382.67,286.57 384.00,286.30 C385.33,286.03 388.13,286.24 389.00,287.00 C389.87,287.76 390.23,290.53 390.50,292.00 C390.77,293.47 390.53,296.40 391.00,298.00 C391.47,299.60 393.07,302.53 394.00,304.00 C394.93,305.47 397.25,307.67 398.00,309.00 C398.75,310.33 399.60,312.67 399.60,314.00 C399.60,315.33 398.88,317.93 398.00,319.00 C397.12,320.07 394.47,321.24 393.00,322.00 C391.53,322.76 388.60,324.57 387.00,324.70 C385.40,324.83 382.47,323.63 381.00,323.00 C379.53,322.37 376.93,321.07 376.00,320.00 C375.07,318.93 374.13,316.47 374.00,315.00 C373.87,313.53 374.60,310.60 375.00,309.00 C375.40,307.40 376.60,304.73 377.00,303.00 C377.40,301.27 377.73,297.87 378.00,296.00 C378.27,294.13 378.20,290.29 379.00,289.00 Z" fill="#d8401c" stroke="#d8401c" stroke-width="1.2"/><ellipse cx="387.80" cy="273.50" rx="5.00" ry="6.70" fill="#d03a1c" transform="rotate(10 387.8 273.5)"/></g>
<g filter="url(#b2)"><path d="M380.00,291.45 C380.86,290.06 382.86,289.42 384.30,289.13 C385.73,288.85 387.67,288.92 388.60,289.73 C389.53,290.55 389.60,292.46 389.89,294.03 C390.17,295.61 389.82,297.47 390.32,299.19 C390.82,300.91 391.89,302.78 392.90,304.35 C393.90,305.93 395.53,307.22 396.34,308.65 C397.14,310.09 397.71,311.52 397.71,312.95 C397.71,314.39 397.28,316.11 396.34,317.25 C395.39,318.40 393.61,319.02 392.04,319.83 C390.46,320.65 388.60,322.01 386.88,322.16 C385.16,322.30 383.29,321.37 381.72,320.69 C380.14,320.02 378.42,319.26 377.42,318.11 C376.41,316.97 375.84,315.39 375.70,313.81 C375.55,312.24 376.13,310.37 376.56,308.65 C376.99,306.93 377.85,305.36 378.28,303.49 C378.71,301.63 378.85,299.48 379.14,297.47 C379.42,295.47 379.14,292.84 380.00,291.45 Z" fill="#a6402e"/><ellipse cx="387.80" cy="273.50" rx="3.60" ry="4.82" fill="#a23a2c" transform="rotate(10 387.8 273.5)"/></g>
<g filter="url(#b3)" opacity="0.75"><path d="M412.00,292.00 C412.60,291.13 414.80,290.57 416.00,290.50 C417.20,290.43 420.20,290.77 421.00,291.50 C421.80,292.23 422.00,294.73 422.00,296.00 C422.00,297.27 420.73,299.80 421.00,301.00 C421.27,302.20 422.67,304.20 424.00,305.00 C425.33,305.80 429.53,306.33 431.00,307.00 C432.47,307.67 434.60,308.93 435.00,310.00 C435.40,311.07 434.80,313.80 434.00,315.00 C433.20,316.20 430.33,317.93 429.00,319.00 C427.67,320.07 425.07,322.01 424.00,323.00 C422.93,323.99 421.93,326.27 421.00,326.40 C420.07,326.53 418.33,324.72 417.00,324.00 C415.67,323.28 412.47,321.80 411.00,321.00 C409.53,320.20 406.76,319.07 406.00,318.00 C405.24,316.93 405.03,314.33 405.30,313.00 C405.57,311.67 407.24,309.33 408.00,308.00 C408.76,306.67 410.53,304.47 411.00,303.00 C411.47,301.53 411.37,298.47 411.50,297.00 C411.63,295.53 411.40,292.87 412.00,292.00 Z" fill="#2a5ae0" stroke="#2a5ae0" stroke-width="10"/><ellipse cx="418.00" cy="273.00" rx="9.20" ry="11.80" fill="#2a5ae0"/></g>
<g filter="url(#b3)"><path d="M412.00,292.00 C412.60,291.13 414.80,290.57 416.00,290.50 C417.20,290.43 420.20,290.77 421.00,291.50 C421.80,292.23 422.00,294.73 422.00,296.00 C422.00,297.27 420.73,299.80 421.00,301.00 C421.27,302.20 422.67,304.20 424.00,305.00 C425.33,305.80 429.53,306.33 431.00,307.00 C432.47,307.67 434.60,308.93 435.00,310.00 C435.40,311.07 434.80,313.80 434.00,315.00 C433.20,316.20 430.33,317.93 429.00,319.00 C427.67,320.07 425.07,322.01 424.00,323.00 C422.93,323.99 421.93,326.27 421.00,326.40 C420.07,326.53 418.33,324.72 417.00,324.00 C415.67,323.28 412.47,321.80 411.00,321.00 C409.53,320.20 406.76,319.07 406.00,318.00 C405.24,316.93 405.03,314.33 405.30,313.00 C405.57,311.67 407.24,309.33 408.00,308.00 C408.76,306.67 410.53,304.47 411.00,303.00 C411.47,301.53 411.37,298.47 411.50,297.00 C411.63,295.53 411.40,292.87 412.00,292.00 Z" fill="#38b4ee" stroke="#38b4ee" stroke-width="5"/><ellipse cx="418.47" cy="282.75" rx="12.5" ry="9" fill="#3cc0ee"/></g>
<g filter="url(#b1)"><ellipse cx="418.47" cy="283.25" rx="12.5" ry="10.25" fill="#56dcd8"/><ellipse cx="418.00" cy="273.00" rx="6.80" ry="9.40" fill="#48d0e8" transform="rotate(5 418.0 273.0)"/><path d="M412.00,292.00 C412.60,291.13 414.80,290.57 416.00,290.50 C417.20,290.43 420.20,290.77 421.00,291.50 C421.80,292.23 422.00,294.73 422.00,296.00 C422.00,297.27 420.73,299.80 421.00,301.00 C421.27,302.20 422.67,304.20 424.00,305.00 C425.33,305.80 429.53,306.33 431.00,307.00 C432.47,307.67 434.60,308.93 435.00,310.00 C435.40,311.07 434.80,313.80 434.00,315.00 C433.20,316.20 430.33,317.93 429.00,319.00 C427.67,320.07 425.07,322.01 424.00,323.00 C422.93,323.99 421.93,326.27 421.00,326.40 C420.07,326.53 418.33,324.72 417.00,324.00 C415.67,323.28 412.47,321.80 411.00,321.00 C409.53,320.20 406.76,319.07 406.00,318.00 C405.24,316.93 405.03,314.33 405.30,313.00 C405.57,311.67 407.24,309.33 408.00,308.00 C408.76,306.67 410.53,304.47 411.00,303.00 C411.47,301.53 411.37,298.47 411.50,297.00 C411.63,295.53 411.40,292.87 412.00,292.00 Z" fill="none" stroke="#56d8e0" stroke-width="3.4"/></g>
<g filter="url(#b2)"><path d="M412.00,292.00 C412.60,291.13 414.80,290.57 416.00,290.50 C417.20,290.43 420.20,290.77 421.00,291.50 C421.80,292.23 422.00,294.73 422.00,296.00 C422.00,297.27 420.73,299.80 421.00,301.00 C421.27,302.20 422.67,304.20 424.00,305.00 C425.33,305.80 429.53,306.33 431.00,307.00 C432.47,307.67 434.60,308.93 435.00,310.00 C435.40,311.07 434.80,313.80 434.00,315.00 C433.20,316.20 430.33,317.93 429.00,319.00 C427.67,320.07 425.07,322.01 424.00,323.00 C422.93,323.99 421.93,326.27 421.00,326.40 C420.07,326.53 418.33,324.72 417.00,324.00 C415.67,323.28 412.47,321.80 411.00,321.00 C409.53,320.20 406.76,319.07 406.00,318.00 C405.24,316.93 405.03,314.33 405.30,313.00 C405.57,311.67 407.24,309.33 408.00,308.00 C408.76,306.67 410.53,304.47 411.00,303.00 C411.47,301.53 411.37,298.47 411.50,297.00 C411.63,295.53 411.40,292.87 412.00,292.00 Z" fill="#7ee890" stroke="#7ee890" stroke-width="4.2"/><ellipse cx="418.00" cy="273.00" rx="6.10" ry="8.70" fill="#7ee890" transform="rotate(5 418.0 273.0)"/></g>
<g filter="url(#b4)"><path d="M412.00,292.00 C412.60,291.13 414.80,290.57 416.00,290.50 C417.20,290.43 420.20,290.77 421.00,291.50 C421.80,292.23 422.00,294.73 422.00,296.00 C422.00,297.27 420.73,299.80 421.00,301.00 C421.27,302.20 422.67,304.20 424.00,305.00 C425.33,305.80 429.53,306.33 431.00,307.00 C432.47,307.67 434.60,308.93 435.00,310.00 C435.40,311.07 434.80,313.80 434.00,315.00 C433.20,316.20 430.33,317.93 429.00,319.00 C427.67,320.07 425.07,322.01 424.00,323.00 C422.93,323.99 421.93,326.27 421.00,326.40 C420.07,326.53 418.33,324.72 417.00,324.00 C415.67,323.28 412.47,321.80 411.00,321.00 C409.53,320.20 406.76,319.07 406.00,318.00 C405.24,316.93 405.03,314.33 405.30,313.00 C405.57,311.67 407.24,309.33 408.00,308.00 C408.76,306.67 410.53,304.47 411.00,303.00 C411.47,301.53 411.37,298.47 411.50,297.00 C411.63,295.53 411.40,292.87 412.00,292.00 Z" fill="#eee23c" stroke="#e6ec4a" stroke-width="2.6"/><ellipse cx="418.00" cy="273.00" rx="5.30" ry="7.90" fill="#eee23c" transform="rotate(5 418.0 273.0)"/></g>
<g filter="url(#b4)"><path d="M412.00,292.00 C412.60,291.13 414.80,290.57 416.00,290.50 C417.20,290.43 420.20,290.77 421.00,291.50 C421.80,292.23 422.00,294.73 422.00,296.00 C422.00,297.27 420.73,299.80 421.00,301.00 C421.27,302.20 422.67,304.20 424.00,305.00 C425.33,305.80 429.53,306.33 431.00,307.00 C432.47,307.67 434.60,308.93 435.00,310.00 C435.40,311.07 434.80,313.80 434.00,315.00 C433.20,316.20 430.33,317.93 429.00,319.00 C427.67,320.07 425.07,322.01 424.00,323.00 C422.93,323.99 421.93,326.27 421.00,326.40 C420.07,326.53 418.33,324.72 417.00,324.00 C415.67,323.28 412.47,321.80 411.00,321.00 C409.53,320.20 406.76,319.07 406.00,318.00 C405.24,316.93 405.03,314.33 405.30,313.00 C405.57,311.67 407.24,309.33 408.00,308.00 C408.76,306.67 410.53,304.47 411.00,303.00 C411.47,301.53 411.37,298.47 411.50,297.00 C411.63,295.53 411.40,292.87 412.00,292.00 Z" fill="#d8401c" stroke="#d8401c" stroke-width="1.2"/><ellipse cx="418.00" cy="273.00" rx="4.20" ry="6.80" fill="#d03a1c" transform="rotate(5 418.0 273.0)"/></g>
<g filter="url(#b2)"><path d="M412.97,294.30 C413.62,293.37 415.12,293.08 416.41,293.01 C417.70,292.94 419.85,293.08 420.71,293.87 C421.57,294.66 421.57,296.38 421.57,297.74 C421.57,299.10 420.42,300.75 420.71,302.04 C421.00,303.33 421.86,304.62 423.29,305.48 C424.72,306.34 427.73,306.49 429.31,307.20 C430.89,307.92 432.32,308.64 432.75,309.78 C433.18,310.93 432.75,312.79 431.89,314.08 C431.03,315.37 429.02,316.38 427.59,317.52 C426.16,318.67 424.44,319.90 423.29,320.96 C422.14,322.02 421.71,323.74 420.71,323.89 C419.71,324.03 418.70,322.60 417.27,321.82 C415.84,321.05 413.69,320.10 412.11,319.24 C410.53,318.38 408.63,317.81 407.81,316.66 C406.99,315.52 406.92,313.80 407.21,312.36 C407.50,310.93 408.71,309.50 409.53,308.06 C410.35,306.63 411.61,305.34 412.11,303.76 C412.61,302.19 412.40,300.18 412.54,298.60 C412.68,297.03 412.33,295.23 412.97,294.30 Z" fill="#a6402e"/><ellipse cx="418.00" cy="273.00" rx="3.02" ry="4.90" fill="#a23a2c" transform="rotate(5 418.0 273.0)"/></g>
<g filter="url(#b3)" opacity="0.75"><path d="M451.00,294.00 C451.67,293.15 453.93,292.60 455.00,292.60 C456.07,292.60 458.33,293.15 459.00,294.00 C459.67,294.85 459.73,297.67 460.00,299.00 C460.27,300.33 460.33,302.80 461.00,304.00 C461.67,305.20 463.87,307.07 465.00,308.00 C466.13,308.93 468.70,310.07 469.50,311.00 C470.30,311.93 471.20,313.93 471.00,315.00 C470.80,316.07 469.07,318.07 468.00,319.00 C466.93,319.93 464.33,321.20 463.00,322.00 C461.67,322.80 459.07,324.41 458.00,325.00 C456.93,325.59 455.80,326.40 455.00,326.40 C454.20,326.40 453.07,325.59 452.00,325.00 C450.93,324.41 448.33,322.80 447.00,322.00 C445.67,321.20 442.93,319.93 442.00,319.00 C441.07,318.07 440.07,316.07 440.00,315.00 C439.93,313.93 440.70,311.93 441.50,311.00 C442.30,310.07 445.00,308.93 446.00,308.00 C447.00,307.07 448.47,305.20 449.00,304.00 C449.53,302.80 449.73,300.33 450.00,299.00 C450.27,297.67 450.33,294.85 451.00,294.00 Z" fill="#2a5ae0" stroke="#2a5ae0" stroke-width="10"/><ellipse cx="452.10" cy="278.30" rx="9.50" ry="10.80" fill="#2a5ae0"/></g>
<g filter="url(#b3)"><path d="M451.00,294.00 C451.67,293.15 453.93,292.60 455.00,292.60 C456.07,292.60 458.33,293.15 459.00,294.00 C459.67,294.85 459.73,297.67 460.00,299.00 C460.27,300.33 460.33,302.80 461.00,304.00 C461.67,305.20 463.87,307.07 465.00,308.00 C466.13,308.93 468.70,310.07 469.50,311.00 C470.30,311.93 471.20,313.93 471.00,315.00 C470.80,316.07 469.07,318.07 468.00,319.00 C466.93,319.93 464.33,321.20 463.00,322.00 C461.67,322.80 459.07,324.41 458.00,325.00 C456.93,325.59 455.80,326.40 455.00,326.40 C454.20,326.40 453.07,325.59 452.00,325.00 C450.93,324.41 448.33,322.80 447.00,322.00 C445.67,321.20 442.93,319.93 442.00,319.00 C441.07,318.07 440.07,316.07 440.00,315.00 C439.93,313.93 440.70,311.93 441.50,311.00 C442.30,310.07 445.00,308.93 446.00,308.00 C447.00,307.07 448.47,305.20 449.00,304.00 C449.53,302.80 449.73,300.33 450.00,299.00 C450.27,297.67 450.33,294.85 451.00,294.00 Z" fill="#38b4ee" stroke="#38b4ee" stroke-width="5"/><ellipse cx="453.62" cy="286.45" rx="12.5" ry="9" fill="#3cc0ee"/></g>
<g filter="url(#b1)"><ellipse cx="453.62" cy="286.95" rx="12.5" ry="8.65" fill="#56dcd8"/><ellipse cx="452.10" cy="278.30" rx="7.10" ry="8.40" fill="#48d0e8" transform="rotate(0 452.1 278.3)"/><path d="M451.00,294.00 C451.67,293.15 453.93,292.60 455.00,292.60 C456.07,292.60 458.33,293.15 459.00,294.00 C459.67,294.85 459.73,297.67 460.00,299.00 C460.27,300.33 460.33,302.80 461.00,304.00 C461.67,305.20 463.87,307.07 465.00,308.00 C466.13,308.93 468.70,310.07 469.50,311.00 C470.30,311.93 471.20,313.93 471.00,315.00 C470.80,316.07 469.07,318.07 468.00,319.00 C466.93,319.93 464.33,321.20 463.00,322.00 C461.67,322.80 459.07,324.41 458.00,325.00 C456.93,325.59 455.80,326.40 455.00,326.40 C454.20,326.40 453.07,325.59 452.00,325.00 C450.93,324.41 448.33,322.80 447.00,322.00 C445.67,321.20 442.93,319.93 442.00,319.00 C441.07,318.07 440.07,316.07 440.00,315.00 C439.93,313.93 440.70,311.93 441.50,311.00 C442.30,310.07 445.00,308.93 446.00,308.00 C447.00,307.07 448.47,305.20 449.00,304.00 C449.53,302.80 449.73,300.33 450.00,299.00 C450.27,297.67 450.33,294.85 451.00,294.00 Z" fill="none" stroke="#56d8e0" stroke-width="3.4"/></g>
<g filter="url(#b2)"><path d="M451.00,294.00 C451.67,293.15 453.93,292.60 455.00,292.60 C456.07,292.60 458.33,293.15 459.00,294.00 C459.67,294.85 459.73,297.67 460.00,299.00 C460.27,300.33 460.33,302.80 461.00,304.00 C461.67,305.20 463.87,307.07 465.00,308.00 C466.13,308.93 468.70,310.07 469.50,311.00 C470.30,311.93 471.20,313.93 471.00,315.00 C470.80,316.07 469.07,318.07 468.00,319.00 C466.93,319.93 464.33,321.20 463.00,322.00 C461.67,322.80 459.07,324.41 458.00,325.00 C456.93,325.59 455.80,326.40 455.00,326.40 C454.20,326.40 453.07,325.59 452.00,325.00 C450.93,324.41 448.33,322.80 447.00,322.00 C445.67,321.20 442.93,319.93 442.00,319.00 C441.07,318.07 440.07,316.07 440.00,315.00 C439.93,313.93 440.70,311.93 441.50,311.00 C442.30,310.07 445.00,308.93 446.00,308.00 C447.00,307.07 448.47,305.20 449.00,304.00 C449.53,302.80 449.73,300.33 450.00,299.00 C450.27,297.67 450.33,294.85 451.00,294.00 Z" fill="#7ee890" stroke="#7ee890" stroke-width="4.2"/><ellipse cx="452.10" cy="278.30" rx="6.40" ry="7.70" fill="#7ee890" transform="rotate(0 452.1 278.3)"/></g>
<g filter="url(#b4)"><path d="M451.00,294.00 C451.67,293.15 453.93,292.60 455.00,292.60 C456.07,292.60 458.33,293.15 459.00,294.00 C459.67,294.85 459.73,297.67 460.00,299.00 C460.27,300.33 460.33,302.80 461.00,304.00 C461.67,305.20 463.87,307.07 465.00,308.00 C466.13,308.93 468.70,310.07 469.50,311.00 C470.30,311.93 471.20,313.93 471.00,315.00 C470.80,316.07 469.07,318.07 468.00,319.00 C466.93,319.93 464.33,321.20 463.00,322.00 C461.67,322.80 459.07,324.41 458.00,325.00 C456.93,325.59 455.80,326.40 455.00,326.40 C454.20,326.40 453.07,325.59 452.00,325.00 C450.93,324.41 448.33,322.80 447.00,322.00 C445.67,321.20 442.93,319.93 442.00,319.00 C441.07,318.07 440.07,316.07 440.00,315.00 C439.93,313.93 440.70,311.93 441.50,311.00 C442.30,310.07 445.00,308.93 446.00,308.00 C447.00,307.07 448.47,305.20 449.00,304.00 C449.53,302.80 449.73,300.33 450.00,299.00 C450.27,297.67 450.33,294.85 451.00,294.00 Z" fill="#eee23c" stroke="#e6ec4a" stroke-width="2.6"/><ellipse cx="452.10" cy="278.30" rx="5.60" ry="6.90" fill="#eee23c" transform="rotate(0 452.1 278.3)"/></g>
<g filter="url(#b4)"><path d="M451.00,294.00 C451.67,293.15 453.93,292.60 455.00,292.60 C456.07,292.60 458.33,293.15 459.00,294.00 C459.67,294.85 459.73,297.67 460.00,299.00 C460.27,300.33 460.33,302.80 461.00,304.00 C461.67,305.20 463.87,307.07 465.00,308.00 C466.13,308.93 468.70,310.07 469.50,311.00 C470.30,311.93 471.20,313.93 471.00,315.00 C470.80,316.07 469.07,318.07 468.00,319.00 C466.93,319.93 464.33,321.20 463.00,322.00 C461.67,322.80 459.07,324.41 458.00,325.00 C456.93,325.59 455.80,326.40 455.00,326.40 C454.20,326.40 453.07,325.59 452.00,325.00 C450.93,324.41 448.33,322.80 447.00,322.00 C445.67,321.20 442.93,319.93 442.00,319.00 C441.07,318.07 440.07,316.07 440.00,315.00 C439.93,313.93 440.70,311.93 441.50,311.00 C442.30,310.07 445.00,308.93 446.00,308.00 C447.00,307.07 448.47,305.20 449.00,304.00 C449.53,302.80 449.73,300.33 450.00,299.00 C450.27,297.67 450.33,294.85 451.00,294.00 Z" fill="#d8401c" stroke="#d8401c" stroke-width="1.2"/><ellipse cx="452.10" cy="278.30" rx="4.50" ry="5.80" fill="#d03a1c" transform="rotate(0 452.1 278.3)"/></g>
<g filter="url(#b2)"><path d="M451.58,296.33 C452.30,295.41 453.87,295.13 455.02,295.13 C456.17,295.13 457.74,295.41 458.46,296.33 C459.18,297.25 459.03,299.20 459.32,300.63 C459.61,302.06 459.46,303.64 460.18,304.93 C460.90,306.22 462.40,307.37 463.62,308.37 C464.84,309.37 466.63,309.95 467.49,310.95 C468.35,311.95 469.00,313.24 468.78,314.39 C468.57,315.54 467.35,316.83 466.20,317.83 C465.05,318.83 463.33,319.55 461.90,320.41 C460.47,321.27 458.75,322.36 457.60,322.99 C456.45,323.62 455.88,324.19 455.02,324.19 C454.16,324.19 453.59,323.62 452.44,322.99 C451.29,322.36 449.57,321.27 448.14,320.41 C446.71,319.55 444.84,318.83 443.84,317.83 C442.84,316.83 442.19,315.54 442.12,314.39 C442.05,313.24 442.55,311.95 443.41,310.95 C444.27,309.95 446.21,309.37 447.28,308.37 C448.36,307.37 449.29,306.22 449.86,304.93 C450.43,303.64 450.43,302.06 450.72,300.63 C451.01,299.20 450.86,297.25 451.58,296.33 Z" fill="#a6402e"/><ellipse cx="452.10" cy="278.30" rx="3.24" ry="4.18" fill="#a23a2c" transform="rotate(0 452.1 278.3)"/></g>
<g filter="url(#b3)" opacity="0.75"><path d="M480.00,290.00 C480.87,289.25 483.80,288.47 485.00,288.40 C486.20,288.33 488.27,288.75 489.00,289.50 C489.73,290.25 490.10,292.60 490.50,294.00 C490.90,295.40 491.33,298.40 492.00,300.00 C492.67,301.60 494.79,304.40 495.50,306.00 C496.21,307.60 497.23,310.40 497.30,312.00 C497.37,313.60 496.71,316.67 496.00,318.00 C495.29,319.33 493.33,320.93 492.00,322.00 C490.67,323.07 487.60,325.73 486.00,326.00 C484.40,326.27 481.47,324.80 480.00,324.00 C478.53,323.20 475.93,321.33 475.00,320.00 C474.07,318.67 473.13,315.73 473.00,314.00 C472.87,312.27 473.47,308.87 474.00,307.00 C474.53,305.13 476.40,301.73 477.00,300.00 C477.60,298.27 478.10,295.33 478.50,294.00 C478.90,292.67 479.13,290.75 480.00,290.00 Z" fill="#2a5ae0" stroke="#2a5ae0" stroke-width="10"/><ellipse cx="487.20" cy="274.60" rx="9.70" ry="11.40" fill="#2a5ae0"/></g>
<g filter="url(#b3)"><path d="M480.00,290.00 C480.87,289.25 483.80,288.47 485.00,288.40 C486.20,288.33 488.27,288.75 489.00,289.50 C489.73,290.25 490.10,292.60 490.50,294.00 C490.90,295.40 491.33,298.40 492.00,300.00 C492.67,301.60 494.79,304.40 495.50,306.00 C496.21,307.60 497.23,310.40 497.30,312.00 C497.37,313.60 496.71,316.67 496.00,318.00 C495.29,319.33 493.33,320.93 492.00,322.00 C490.67,323.07 487.60,325.73 486.00,326.00 C484.40,326.27 481.47,324.80 480.00,324.00 C478.53,323.20 475.93,321.33 475.00,320.00 C474.07,318.67 473.13,315.73 473.00,314.00 C472.87,312.27 473.47,308.87 474.00,307.00 C474.53,305.13 476.40,301.73 477.00,300.00 C477.60,298.27 478.10,295.33 478.50,294.00 C478.90,292.67 479.13,290.75 480.00,290.00 Z" fill="#38b4ee" stroke="#38b4ee" stroke-width="5"/><ellipse cx="486.12" cy="282.50" rx="12.5" ry="9" fill="#3cc0ee"/></g>
<g filter="url(#b1)"><ellipse cx="486.12" cy="283.00" rx="12.5" ry="8.40" fill="#56dcd8"/><ellipse cx="487.20" cy="274.60" rx="7.30" ry="9.00" fill="#48d0e8" transform="rotate(5 487.2 274.6)"/><path d="M480.00,290.00 C480.87,289.25 483.80,288.47 485.00,288.40 C486.20,288.33 488.27,288.75 489.00,289.50 C489.73,290.25 490.10,292.60 490.50,294.00 C490.90,295.40 491.33,298.40 492.00,300.00 C492.67,301.60 494.79,304.40 495.50,306.00 C496.21,307.60 497.23,310.40 497.30,312.00 C497.37,313.60 496.71,316.67 496.00,318.00 C495.29,319.33 493.33,320.93 492.00,322.00 C490.67,323.07 487.60,325.73 486.00,326.00 C484.40,326.27 481.47,324.80 480.00,324.00 C478.53,323.20 475.93,321.33 475.00,320.00 C474.07,318.67 473.13,315.73 473.00,314.00 C472.87,312.27 473.47,308.87 474.00,307.00 C474.53,305.13 476.40,301.73 477.00,300.00 C477.60,298.27 478.10,295.33 478.50,294.00 C478.90,292.67 479.13,290.75 480.00,290.00 Z" fill="none" stroke="#56d8e0" stroke-width="3.4"/></g>
<g filter="url(#b2)"><path d="M480.00,290.00 C480.87,289.25 483.80,288.47 485.00,288.40 C486.20,288.33 488.27,288.75 489.00,289.50 C489.73,290.25 490.10,292.60 490.50,294.00 C490.90,295.40 491.33,298.40 492.00,300.00 C492.67,301.60 494.79,304.40 495.50,306.00 C496.21,307.60 497.23,310.40 497.30,312.00 C497.37,313.60 496.71,316.67 496.00,318.00 C495.29,319.33 493.33,320.93 492.00,322.00 C490.67,323.07 487.60,325.73 486.00,326.00 C484.40,326.27 481.47,324.80 480.00,324.00 C478.53,323.20 475.93,321.33 475.00,320.00 C474.07,318.67 473.13,315.73 473.00,314.00 C472.87,312.27 473.47,308.87 474.00,307.00 C474.53,305.13 476.40,301.73 477.00,300.00 C477.60,298.27 478.10,295.33 478.50,294.00 C478.90,292.67 479.13,290.75 480.00,290.00 Z" fill="#7ee890" stroke="#7ee890" stroke-width="4.2"/><ellipse cx="487.20" cy="274.60" rx="6.60" ry="8.30" fill="#7ee890" transform="rotate(5 487.2 274.6)"/></g>
<g filter="url(#b4)"><path d="M480.00,290.00 C480.87,289.25 483.80,288.47 485.00,288.40 C486.20,288.33 488.27,288.75 489.00,289.50 C489.73,290.25 490.10,292.60 490.50,294.00 C490.90,295.40 491.33,298.40 492.00,300.00 C492.67,301.60 494.79,304.40 495.50,306.00 C496.21,307.60 497.23,310.40 497.30,312.00 C497.37,313.60 496.71,316.67 496.00,318.00 C495.29,319.33 493.33,320.93 492.00,322.00 C490.67,323.07 487.60,325.73 486.00,326.00 C484.40,326.27 481.47,324.80 480.00,324.00 C478.53,323.20 475.93,321.33 475.00,320.00 C474.07,318.67 473.13,315.73 473.00,314.00 C472.87,312.27 473.47,308.87 474.00,307.00 C474.53,305.13 476.40,301.73 477.00,300.00 C477.60,298.27 478.10,295.33 478.50,294.00 C478.90,292.67 479.13,290.75 480.00,290.00 Z" fill="#eee23c" stroke="#e6ec4a" stroke-width="2.6"/><ellipse cx="487.20" cy="274.60" rx="5.80" ry="7.50" fill="#eee23c" transform="rotate(5 487.2 274.6)"/></g>
<g filter="url(#b4)"><path d="M480.00,290.00 C480.87,289.25 483.80,288.47 485.00,288.40 C486.20,288.33 488.27,288.75 489.00,289.50 C489.73,290.25 490.10,292.60 490.50,294.00 C490.90,295.40 491.33,298.40 492.00,300.00 C492.67,301.60 494.79,304.40 495.50,306.00 C496.21,307.60 497.23,310.40 497.30,312.00 C497.37,313.60 496.71,316.67 496.00,318.00 C495.29,319.33 493.33,320.93 492.00,322.00 C490.67,323.07 487.60,325.73 486.00,326.00 C484.40,326.27 481.47,324.80 480.00,324.00 C478.53,323.20 475.93,321.33 475.00,320.00 C474.07,318.67 473.13,315.73 473.00,314.00 C472.87,312.27 473.47,308.87 474.00,307.00 C474.53,305.13 476.40,301.73 477.00,300.00 C477.60,298.27 478.10,295.33 478.50,294.00 C478.90,292.67 479.13,290.75 480.00,290.00 Z" fill="#d8401c" stroke="#d8401c" stroke-width="1.2"/><ellipse cx="487.20" cy="274.60" rx="4.70" ry="6.40" fill="#d03a1c" transform="rotate(5 487.2 274.6)"/></g>
<g filter="url(#b2)"><path d="M480.71,292.32 C481.64,291.52 483.72,291.01 485.01,290.94 C486.30,290.87 487.66,291.09 488.45,291.89 C489.24,292.69 489.31,294.25 489.74,295.76 C490.17,297.26 490.31,299.20 491.03,300.92 C491.74,302.64 493.28,304.36 494.04,306.08 C494.80,307.80 495.51,309.52 495.59,311.24 C495.66,312.96 495.23,314.96 494.47,316.40 C493.71,317.83 492.46,318.69 491.03,319.84 C489.59,320.98 487.59,322.99 485.87,323.28 C484.15,323.56 482.28,322.42 480.71,321.56 C479.13,320.70 477.41,319.55 476.41,318.12 C475.40,316.68 474.83,314.82 474.69,312.96 C474.54,311.09 474.97,308.94 475.55,306.94 C476.12,304.93 477.48,302.78 478.13,300.92 C478.77,299.05 478.99,297.19 479.42,295.76 C479.85,294.32 479.78,293.12 480.71,292.32 Z" fill="#a6402e"/><ellipse cx="487.20" cy="274.60" rx="3.38" ry="4.61" fill="#a23a2c" transform="rotate(5 487.2 274.6)"/></g>
</g>
<text x="304.00" y="333.3" font-size="8.6" fill="#fff" stroke="#fff" stroke-width="0.3">g4m1</text>
<text x="338.60" y="333.3" font-size="8.6" fill="#fff" stroke="#fff" stroke-width="0.3">g4m2</text>
<text x="373.20" y="333.3" font-size="8.6" fill="#fff" stroke="#fff" stroke-width="0.3">g4m3</text>
<text x="407.00" y="333.3" font-size="8.6" fill="#fff" stroke="#fff" stroke-width="0.3">g4m4</text>
<text x="441.30" y="333.3" font-size="8.6" fill="#fff" stroke="#fff" stroke-width="0.3">g4m5</text>
<text x="475.60" y="333.3" font-size="8.6" fill="#fff" stroke="#fff" stroke-width="0.3">g4m6</text>
<rect x="298.2" y="357.0" width="201.8" height="79.5" fill="#060606"/>
<g clip-path="url(#clipB)">
<g filter="url(#b1)"><rect x="315.50" y="358" width="3" height="10.00" fill="#171717"/></g>
<g filter="url(#b2)"><path d="M317.00,366.00 C318.08,366.00 319.50,366.33 320.50,367.00 C321.50,367.67 322.08,368.83 323.00,370.00 C323.92,371.17 325.17,372.50 326.00,374.00 C326.83,375.50 327.47,377.00 328.00,379.00 C328.53,381.00 328.93,383.33 329.20,386.00 C329.47,388.67 329.67,391.83 329.60,395.00 C329.53,398.17 329.07,402.17 328.80,405.00 C328.53,407.83 328.05,410.00 328.00,412.00 C327.95,414.00 329.00,415.58 328.50,417.00 C328.00,418.42 326.75,419.75 325.00,420.50 C323.25,421.25 320.33,421.42 318.00,421.50 C315.67,421.58 312.92,421.58 311.00,421.00 C309.08,420.42 307.33,419.83 306.50,418.00 C305.67,416.17 306.17,413.00 306.00,410.00 C305.83,407.00 305.50,403.17 305.50,400.00 C305.50,396.83 306.25,393.50 306.00,391.00 C305.75,388.50 304.17,387.00 304.00,385.00 C303.83,383.00 304.33,380.67 305.00,379.00 C305.67,377.33 307.00,376.50 308.00,375.00 C309.00,373.50 310.00,371.33 311.00,370.00 C312.00,368.67 313.00,367.67 314.00,367.00 C315.00,366.33 315.92,366.00 317.00,366.00 Z" fill="#9a9a9a"/></g>
<g filter="url(#b1)"><path d="M317.03,369.15 C317.98,369.15 319.23,369.44 320.11,370.03 C320.99,370.61 321.50,371.64 322.31,372.67 C323.11,373.69 324.21,374.87 324.95,376.19 C325.68,377.51 326.24,378.83 326.71,380.59 C327.17,382.35 327.53,384.40 327.76,386.75 C328.00,389.09 328.17,391.88 328.11,394.67 C328.05,397.45 327.64,400.97 327.41,403.47 C327.17,405.96 326.75,407.87 326.71,409.63 C326.66,411.39 327.59,412.78 327.15,414.03 C326.71,415.27 325.61,416.45 324.07,417.11 C322.53,417.77 319.96,417.91 317.91,417.99 C315.85,418.06 313.43,418.06 311.75,417.55 C310.06,417.03 308.52,416.52 307.79,414.91 C307.05,413.29 307.49,410.51 307.35,407.87 C307.20,405.23 306.91,401.85 306.91,399.07 C306.91,396.28 307.57,393.35 307.35,391.15 C307.13,388.95 305.73,387.63 305.59,385.87 C305.44,384.11 305.88,382.05 306.47,380.59 C307.05,379.12 308.23,378.39 309.11,377.07 C309.99,375.75 310.87,373.84 311.75,372.67 C312.63,371.49 313.51,370.61 314.39,370.03 C315.27,369.44 316.07,369.15 317.03,369.15 Z" fill="#cacaca"/></g>
<g filter="url(#b3)"><path d="M317.08,375.97 C317.75,375.97 318.63,376.17 319.25,376.59 C319.87,377.00 320.23,377.72 320.80,378.45 C321.37,379.17 322.14,380.00 322.66,380.93 C323.18,381.86 323.57,382.79 323.90,384.03 C324.23,385.27 324.48,386.71 324.64,388.37 C324.81,390.02 324.93,391.98 324.89,393.95 C324.85,395.91 324.56,398.39 324.40,400.15 C324.23,401.90 323.93,403.25 323.90,404.49 C323.87,405.73 324.52,406.71 324.21,407.59 C323.90,408.46 323.12,409.29 322.04,409.76 C320.95,410.22 319.15,410.32 317.70,410.38 C316.25,410.43 314.55,410.43 313.36,410.07 C312.17,409.70 311.09,409.34 310.57,408.21 C310.05,407.07 310.36,405.11 310.26,403.25 C310.16,401.39 309.95,399.01 309.95,397.05 C309.95,395.08 310.41,393.02 310.26,391.47 C310.10,389.92 309.12,388.99 309.02,387.75 C308.92,386.51 309.23,385.06 309.64,384.03 C310.05,382.99 310.88,382.48 311.50,381.55 C312.12,380.62 312.74,379.27 313.36,378.45 C313.98,377.62 314.60,377.00 315.22,376.59 C315.84,376.17 316.41,375.97 317.08,375.97 Z" fill="#e8e8e8"/></g>
<g filter="url(#b1)"><rect x="350.00" y="358" width="3" height="12.50" fill="#171717"/></g>
<g filter="url(#b2)"><path d="M351.50,368.50 C352.58,368.58 353.92,368.83 355.00,369.50 C356.08,370.17 357.08,371.25 358.00,372.50 C358.92,373.75 359.75,375.25 360.50,377.00 C361.25,378.75 361.92,380.50 362.50,383.00 C363.08,385.50 363.72,388.67 364.00,392.00 C364.28,395.33 364.37,399.50 364.20,403.00 C364.03,406.50 363.20,410.50 363.00,413.00 C362.80,415.50 363.83,416.58 363.00,418.00 C362.17,419.42 360.00,420.75 358.00,421.50 C356.00,422.25 353.33,422.50 351.00,422.50 C348.67,422.50 345.83,422.25 344.00,421.50 C342.17,420.75 340.75,419.92 340.00,418.00 C339.25,416.08 339.67,413.33 339.50,410.00 C339.33,406.67 339.03,401.50 339.00,398.00 C338.97,394.50 339.72,391.33 339.30,389.00 C338.88,386.67 336.72,385.58 336.50,384.00 C336.28,382.42 337.08,380.92 338.00,379.50 C338.92,378.08 340.75,376.83 342.00,375.50 C343.25,374.17 344.42,372.58 345.50,371.50 C346.58,370.42 347.50,369.50 348.50,369.00 C349.50,368.50 350.42,368.42 351.50,368.50 Z" fill="#9a9a9a"/></g>
<g filter="url(#b1)"><path d="M351.39,371.46 C352.35,371.53 353.52,371.75 354.47,372.34 C355.43,372.93 356.31,373.88 357.11,374.98 C357.92,376.08 358.65,377.40 359.31,378.94 C359.97,380.48 360.56,382.02 361.07,384.22 C361.59,386.42 362.14,389.21 362.39,392.14 C362.64,395.07 362.72,398.74 362.57,401.82 C362.42,404.90 361.69,408.42 361.51,410.62 C361.34,412.82 362.25,413.77 361.51,415.02 C360.78,416.27 358.87,417.44 357.11,418.10 C355.35,418.76 353.01,418.98 350.95,418.98 C348.90,418.98 346.41,418.76 344.79,418.10 C343.18,417.44 341.93,416.71 341.27,415.02 C340.61,413.33 340.98,410.91 340.83,407.98 C340.69,405.05 340.42,400.50 340.39,397.42 C340.36,394.34 341.02,391.55 340.66,389.50 C340.29,387.45 338.38,386.49 338.19,385.10 C338.00,383.71 338.71,382.39 339.51,381.14 C340.32,379.89 341.93,378.79 343.03,377.62 C344.13,376.45 345.16,375.05 346.11,374.10 C347.07,373.15 347.87,372.34 348.75,371.90 C349.63,371.46 350.44,371.39 351.39,371.46 Z" fill="#cacaca"/></g>
<g filter="url(#b3)"><path d="M351.17,377.87 C351.84,377.93 352.66,378.08 353.34,378.49 C354.01,378.91 354.63,379.58 355.20,380.35 C355.76,381.13 356.28,382.06 356.75,383.14 C357.21,384.23 357.62,385.31 357.99,386.86 C358.35,388.41 358.74,390.38 358.92,392.44 C359.09,394.51 359.14,397.09 359.04,399.26 C358.94,401.43 358.42,403.91 358.30,405.46 C358.17,407.01 358.81,407.69 358.30,408.56 C357.78,409.44 356.44,410.27 355.20,410.73 C353.96,411.20 352.30,411.35 350.86,411.35 C349.41,411.35 347.65,411.20 346.52,410.73 C345.38,410.27 344.50,409.75 344.04,408.56 C343.57,407.38 343.83,405.67 343.73,403.60 C343.62,401.54 343.44,398.33 343.42,396.16 C343.39,393.99 343.86,392.03 343.60,390.58 C343.34,389.14 342.00,388.47 341.87,387.48 C341.73,386.50 342.23,385.57 342.80,384.69 C343.36,383.81 344.50,383.04 345.28,382.21 C346.05,381.39 346.77,380.41 347.45,379.73 C348.12,379.06 348.69,378.49 349.31,378.18 C349.93,377.87 350.49,377.82 351.17,377.87 Z" fill="#e8e8e8"/></g>
<g filter="url(#b1)"><rect x="377.50" y="358" width="3" height="18.50" fill="#171717"/></g>
<g filter="url(#b2)"><path d="M379.00,376.00 C380.42,375.08 382.17,374.75 384.00,374.50 C385.83,374.25 388.50,374.08 390.00,374.50 C391.50,374.92 392.33,375.58 393.00,377.00 C393.67,378.42 393.58,380.50 394.00,383.00 C394.42,385.50 395.17,388.50 395.50,392.00 C395.83,395.50 395.92,400.33 396.00,404.00 C396.08,407.67 396.50,411.33 396.00,414.00 C395.50,416.67 394.50,418.58 393.00,420.00 C391.50,421.42 389.17,422.08 387.00,422.50 C384.83,422.92 381.92,423.08 380.00,422.50 C378.08,421.92 376.50,421.08 375.50,419.00 C374.50,416.92 374.30,413.50 374.00,410.00 C373.70,406.50 373.70,402.00 373.70,398.00 C373.70,394.00 373.70,389.00 374.00,386.00 C374.30,383.00 374.67,381.67 375.50,380.00 C376.33,378.33 377.58,376.92 379.00,376.00 Z" fill="#9a9a9a"/></g>
<g filter="url(#b1)"><path d="M379.72,378.53 C380.97,377.72 382.51,377.43 384.12,377.21 C385.73,376.99 388.08,376.84 389.40,377.21 C390.72,377.57 391.45,378.16 392.04,379.41 C392.63,380.65 392.55,382.49 392.92,384.69 C393.29,386.89 393.95,389.53 394.24,392.61 C394.53,395.69 394.61,399.94 394.68,403.17 C394.75,406.39 395.12,409.62 394.68,411.97 C394.24,414.31 393.36,416.00 392.04,417.25 C390.72,418.49 388.67,419.08 386.76,419.45 C384.85,419.81 382.29,419.96 380.60,419.45 C378.91,418.93 377.52,418.20 376.64,416.37 C375.76,414.53 375.59,411.53 375.32,408.45 C375.06,405.37 375.06,401.41 375.06,397.89 C375.06,394.37 375.06,389.97 375.32,387.33 C375.59,384.69 375.91,383.51 376.64,382.05 C377.37,380.58 378.47,379.33 379.72,378.53 Z" fill="#cacaca"/></g>
<g filter="url(#b3)"><path d="M381.28,384.00 C382.16,383.44 383.25,383.23 384.38,383.07 C385.52,382.92 387.17,382.82 388.10,383.07 C389.03,383.33 389.55,383.75 389.96,384.62 C390.38,385.50 390.33,386.79 390.58,388.34 C390.84,389.89 391.31,391.75 391.51,393.92 C391.72,396.09 391.77,399.09 391.82,401.36 C391.88,403.64 392.13,405.91 391.82,407.56 C391.51,409.22 390.89,410.41 389.96,411.28 C389.03,412.16 387.59,412.58 386.24,412.83 C384.90,413.09 383.09,413.20 381.90,412.83 C380.72,412.47 379.73,411.96 379.11,410.66 C378.49,409.37 378.37,407.25 378.18,405.08 C378.00,402.91 378.00,400.12 378.00,397.64 C378.00,395.16 378.00,392.06 378.18,390.20 C378.37,388.34 378.60,387.52 379.11,386.48 C379.63,385.45 380.41,384.57 381.28,384.00 Z" fill="#e8e8e8"/></g>
<g filter="url(#b1)"><rect x="417.30" y="358" width="3" height="18.00" fill="#171717"/></g>
<g filter="url(#b2)"><path d="M418.80,374.00 C419.88,374.00 420.63,374.58 421.50,375.50 C422.37,376.42 423.28,377.92 424.00,379.50 C424.72,381.08 425.13,382.92 425.80,385.00 C426.47,387.08 427.38,389.17 428.00,392.00 C428.62,394.83 429.23,398.67 429.50,402.00 C429.77,405.33 429.77,408.83 429.60,412.00 C429.43,415.17 429.27,418.50 428.50,421.00 C427.73,423.50 426.75,425.78 425.00,427.00 C423.25,428.22 420.33,428.22 418.00,428.30 C415.67,428.38 412.92,428.55 411.00,427.50 C409.08,426.45 407.50,424.58 406.50,422.00 C405.50,419.42 405.30,415.67 405.00,412.00 C404.70,408.33 404.62,403.50 404.70,400.00 C404.78,396.50 405.03,393.50 405.50,391.00 C405.97,388.50 406.67,386.92 407.50,385.00 C408.33,383.08 409.25,381.08 410.50,379.50 C411.75,377.92 413.62,376.42 415.00,375.50 C416.38,374.58 417.72,374.00 418.80,374.00 Z" fill="#9a9a9a"/></g>
<g filter="url(#b1)"><path d="M418.64,377.05 C419.59,377.05 420.25,377.56 421.02,378.37 C421.78,379.17 422.59,380.49 423.22,381.89 C423.85,383.28 424.21,384.89 424.80,386.73 C425.39,388.56 426.19,390.39 426.74,392.89 C427.28,395.38 427.82,398.75 428.06,401.69 C428.29,404.62 428.29,407.70 428.14,410.49 C428.00,413.27 427.85,416.21 427.18,418.41 C426.50,420.61 425.64,422.61 424.10,423.69 C422.56,424.76 419.99,424.76 417.94,424.83 C415.88,424.90 413.46,425.05 411.78,424.13 C410.09,423.20 408.70,421.56 407.82,419.29 C406.94,417.01 406.76,413.71 406.50,410.49 C406.23,407.26 406.16,403.01 406.23,399.93 C406.31,396.85 406.53,394.21 406.94,392.01 C407.35,389.81 407.96,388.41 408.70,386.73 C409.43,385.04 410.24,383.28 411.34,381.89 C412.44,380.49 414.08,379.17 415.30,378.37 C416.51,377.56 417.69,377.05 418.64,377.05 Z" fill="#cacaca"/></g>
<g filter="url(#b3)"><path d="M418.29,383.64 C418.97,383.64 419.43,384.01 419.97,384.57 C420.50,385.14 421.07,386.07 421.52,387.05 C421.96,388.04 422.22,389.17 422.63,390.46 C423.05,391.76 423.61,393.05 424.00,394.80 C424.38,396.56 424.76,398.94 424.93,401.00 C425.09,403.07 425.09,405.24 424.99,407.20 C424.89,409.17 424.78,411.23 424.31,412.78 C423.83,414.33 423.22,415.75 422.14,416.50 C421.05,417.26 419.24,417.26 417.80,417.31 C416.35,417.36 414.65,417.46 413.46,416.81 C412.27,416.16 411.29,415.01 410.67,413.40 C410.05,411.80 409.92,409.48 409.74,407.20 C409.55,404.93 409.50,401.93 409.55,399.76 C409.60,397.59 409.76,395.73 410.05,394.18 C410.34,392.63 410.77,391.65 411.29,390.46 C411.80,389.28 412.37,388.04 413.15,387.05 C413.92,386.07 415.08,385.14 415.94,384.57 C416.79,384.01 417.62,383.64 418.29,383.64 Z" fill="#e8e8e8"/></g>
<g filter="url(#b1)"><rect x="450.00" y="358" width="3" height="13.50" fill="#171717"/></g>
<g filter="url(#b2)"><path d="M451.50,369.50 C452.67,369.42 453.92,369.83 455.00,370.50 C456.08,371.17 457.17,372.25 458.00,373.50 C458.83,374.75 459.33,376.25 460.00,378.00 C460.67,379.75 461.50,381.50 462.00,384.00 C462.50,386.50 462.83,389.50 463.00,393.00 C463.17,396.50 463.17,401.50 463.00,405.00 C462.83,408.50 462.58,411.33 462.00,414.00 C461.42,416.67 461.00,419.07 459.50,421.00 C458.00,422.93 455.25,425.02 453.00,425.60 C450.75,426.18 447.83,425.43 446.00,424.50 C444.17,423.57 442.95,422.42 442.00,420.00 C441.05,417.58 440.63,413.67 440.30,410.00 C439.97,406.33 440.00,401.67 440.00,398.00 C440.00,394.33 440.05,390.83 440.30,388.00 C440.55,385.17 440.88,383.17 441.50,381.00 C442.12,378.83 442.92,376.67 444.00,375.00 C445.08,373.33 446.75,371.92 448.00,371.00 C449.25,370.08 450.33,369.58 451.50,369.50 Z" fill="#9a9a9a"/></g>
<g filter="url(#b1)"><path d="M451.51,372.50 C452.54,372.43 453.64,372.80 454.59,373.38 C455.55,373.97 456.50,374.92 457.23,376.02 C457.97,377.12 458.41,378.44 458.99,379.98 C459.58,381.52 460.31,383.06 460.75,385.26 C461.19,387.46 461.49,390.10 461.63,393.18 C461.78,396.26 461.78,400.66 461.63,403.74 C461.49,406.82 461.27,409.32 460.75,411.66 C460.24,414.01 459.87,416.12 458.55,417.82 C457.23,419.53 454.81,421.36 452.83,421.87 C450.85,422.39 448.29,421.73 446.67,420.90 C445.06,420.08 443.99,419.07 443.15,416.94 C442.32,414.82 441.95,411.37 441.66,408.14 C441.36,404.92 441.39,400.81 441.39,397.58 C441.39,394.36 441.44,391.28 441.66,388.78 C441.88,386.29 442.17,384.53 442.71,382.62 C443.26,380.72 443.96,378.81 444.91,377.34 C445.87,375.88 447.33,374.63 448.43,373.82 C449.53,373.02 450.49,372.58 451.51,372.50 Z" fill="#cacaca"/></g>
<g filter="url(#b3)"><path d="M451.54,379.01 C452.27,378.96 453.04,379.22 453.71,379.63 C454.39,380.05 455.06,380.72 455.57,381.49 C456.09,382.27 456.40,383.20 456.81,384.28 C457.23,385.37 457.74,386.45 458.05,388.00 C458.36,389.55 458.57,391.41 458.67,393.58 C458.78,395.75 458.78,398.85 458.67,401.02 C458.57,403.19 458.42,404.95 458.05,406.60 C457.69,408.26 457.43,409.74 456.50,410.94 C455.57,412.14 453.87,413.43 452.47,413.79 C451.08,414.16 449.27,413.69 448.13,413.11 C447.00,412.53 446.24,411.82 445.65,410.32 C445.07,408.82 444.81,406.40 444.60,404.12 C444.39,401.85 444.41,398.96 444.41,396.68 C444.41,394.41 444.45,392.24 444.60,390.48 C444.76,388.73 444.96,387.49 445.34,386.14 C445.73,384.80 446.22,383.46 446.89,382.42 C447.57,381.39 448.60,380.51 449.37,379.94 C450.15,379.37 450.82,379.06 451.54,379.01 Z" fill="#e8e8e8"/></g>
<g filter="url(#b1)"><rect x="483.70" y="358" width="3" height="14.00" fill="#171717"/></g>
<g filter="url(#b2)"><path d="M485.20,370.00 C486.28,370.08 487.20,370.67 488.00,371.50 C488.80,372.33 489.42,373.58 490.00,375.00 C490.58,376.42 491.08,378.17 491.50,380.00 C491.92,381.83 492.20,383.50 492.50,386.00 C492.80,388.50 493.17,391.83 493.30,395.00 C493.43,398.17 493.43,401.83 493.30,405.00 C493.17,408.17 493.05,411.33 492.50,414.00 C491.95,416.67 491.42,419.17 490.00,421.00 C488.58,422.83 486.17,424.50 484.00,425.00 C481.83,425.50 478.83,425.00 477.00,424.00 C475.17,423.00 473.88,421.67 473.00,419.00 C472.12,416.33 471.87,411.83 471.70,408.00 C471.53,404.17 471.87,399.50 472.00,396.00 C472.13,392.50 472.17,389.67 472.50,387.00 C472.83,384.33 473.17,382.08 474.00,380.00 C474.83,377.92 476.25,376.00 477.50,374.50 C478.75,373.00 480.22,371.75 481.50,371.00 C482.78,370.25 484.12,369.92 485.20,370.00 Z" fill="#9a9a9a"/></g>
<g filter="url(#b1)"><path d="M484.97,372.95 C485.93,373.02 486.73,373.53 487.44,374.27 C488.14,375.00 488.68,376.10 489.20,377.35 C489.71,378.59 490.15,380.13 490.52,381.75 C490.88,383.36 491.13,384.83 491.40,387.03 C491.66,389.23 491.98,392.16 492.10,394.95 C492.22,397.73 492.22,400.96 492.10,403.75 C491.98,406.53 491.88,409.32 491.40,411.67 C490.91,414.01 490.44,416.21 489.20,417.83 C487.95,419.44 485.82,420.91 483.92,421.35 C482.01,421.79 479.37,421.35 477.76,420.47 C476.14,419.59 475.01,418.41 474.24,416.07 C473.46,413.72 473.24,409.76 473.09,406.39 C472.95,403.01 473.24,398.91 473.36,395.83 C473.47,392.75 473.50,390.25 473.80,387.91 C474.09,385.56 474.38,383.58 475.12,381.75 C475.85,379.91 477.10,378.23 478.20,376.91 C479.30,375.59 480.59,374.49 481.72,373.83 C482.85,373.17 484.02,372.87 484.97,372.95 Z" fill="#cacaca"/></g>
<g filter="url(#b3)"><path d="M484.48,379.33 C485.15,379.38 485.72,379.74 486.22,380.26 C486.71,380.78 487.09,381.55 487.46,382.43 C487.82,383.31 488.13,384.39 488.39,385.53 C488.64,386.67 488.82,387.70 489.01,389.25 C489.19,390.80 489.42,392.87 489.50,394.83 C489.58,396.79 489.58,399.07 489.50,401.03 C489.42,402.99 489.35,404.96 489.01,406.61 C488.67,408.26 488.33,409.81 487.46,410.95 C486.58,412.09 485.08,413.12 483.74,413.43 C482.39,413.74 480.53,413.43 479.40,412.81 C478.26,412.19 477.46,411.36 476.92,409.71 C476.37,408.06 476.21,405.27 476.11,402.89 C476.01,400.51 476.21,397.62 476.30,395.45 C476.38,393.28 476.40,391.52 476.61,389.87 C476.81,388.22 477.02,386.82 477.54,385.53 C478.05,384.24 478.93,383.05 479.71,382.12 C480.48,381.19 481.39,380.42 482.19,379.95 C482.98,379.49 483.81,379.28 484.48,379.33 Z" fill="#e8e8e8"/></g>
<clipPath id="clipMice"><path d="M317.00,366.00 C318.08,366.00 319.50,366.33 320.50,367.00 C321.50,367.67 322.08,368.83 323.00,370.00 C323.92,371.17 325.17,372.50 326.00,374.00 C326.83,375.50 327.47,377.00 328.00,379.00 C328.53,381.00 328.93,383.33 329.20,386.00 C329.47,388.67 329.67,391.83 329.60,395.00 C329.53,398.17 329.07,402.17 328.80,405.00 C328.53,407.83 328.05,410.00 328.00,412.00 C327.95,414.00 329.00,415.58 328.50,417.00 C328.00,418.42 326.75,419.75 325.00,420.50 C323.25,421.25 320.33,421.42 318.00,421.50 C315.67,421.58 312.92,421.58 311.00,421.00 C309.08,420.42 307.33,419.83 306.50,418.00 C305.67,416.17 306.17,413.00 306.00,410.00 C305.83,407.00 305.50,403.17 305.50,400.00 C305.50,396.83 306.25,393.50 306.00,391.00 C305.75,388.50 304.17,387.00 304.00,385.00 C303.83,383.00 304.33,380.67 305.00,379.00 C305.67,377.33 307.00,376.50 308.00,375.00 C309.00,373.50 310.00,371.33 311.00,370.00 C312.00,368.67 313.00,367.67 314.00,367.00 C315.00,366.33 315.92,366.00 317.00,366.00 Z"/><path d="M351.50,368.50 C352.58,368.58 353.92,368.83 355.00,369.50 C356.08,370.17 357.08,371.25 358.00,372.50 C358.92,373.75 359.75,375.25 360.50,377.00 C361.25,378.75 361.92,380.50 362.50,383.00 C363.08,385.50 363.72,388.67 364.00,392.00 C364.28,395.33 364.37,399.50 364.20,403.00 C364.03,406.50 363.20,410.50 363.00,413.00 C362.80,415.50 363.83,416.58 363.00,418.00 C362.17,419.42 360.00,420.75 358.00,421.50 C356.00,422.25 353.33,422.50 351.00,422.50 C348.67,422.50 345.83,422.25 344.00,421.50 C342.17,420.75 340.75,419.92 340.00,418.00 C339.25,416.08 339.67,413.33 339.50,410.00 C339.33,406.67 339.03,401.50 339.00,398.00 C338.97,394.50 339.72,391.33 339.30,389.00 C338.88,386.67 336.72,385.58 336.50,384.00 C336.28,382.42 337.08,380.92 338.00,379.50 C338.92,378.08 340.75,376.83 342.00,375.50 C343.25,374.17 344.42,372.58 345.50,371.50 C346.58,370.42 347.50,369.50 348.50,369.00 C349.50,368.50 350.42,368.42 351.50,368.50 Z"/><path d="M379.00,376.00 C380.42,375.08 382.17,374.75 384.00,374.50 C385.83,374.25 388.50,374.08 390.00,374.50 C391.50,374.92 392.33,375.58 393.00,377.00 C393.67,378.42 393.58,380.50 394.00,383.00 C394.42,385.50 395.17,388.50 395.50,392.00 C395.83,395.50 395.92,400.33 396.00,404.00 C396.08,407.67 396.50,411.33 396.00,414.00 C395.50,416.67 394.50,418.58 393.00,420.00 C391.50,421.42 389.17,422.08 387.00,422.50 C384.83,422.92 381.92,423.08 380.00,422.50 C378.08,421.92 376.50,421.08 375.50,419.00 C374.50,416.92 374.30,413.50 374.00,410.00 C373.70,406.50 373.70,402.00 373.70,398.00 C373.70,394.00 373.70,389.00 374.00,386.00 C374.30,383.00 374.67,381.67 375.50,380.00 C376.33,378.33 377.58,376.92 379.00,376.00 Z"/><path d="M418.80,374.00 C419.88,374.00 420.63,374.58 421.50,375.50 C422.37,376.42 423.28,377.92 424.00,379.50 C424.72,381.08 425.13,382.92 425.80,385.00 C426.47,387.08 427.38,389.17 428.00,392.00 C428.62,394.83 429.23,398.67 429.50,402.00 C429.77,405.33 429.77,408.83 429.60,412.00 C429.43,415.17 429.27,418.50 428.50,421.00 C427.73,423.50 426.75,425.78 425.00,427.00 C423.25,428.22 420.33,428.22 418.00,428.30 C415.67,428.38 412.92,428.55 411.00,427.50 C409.08,426.45 407.50,424.58 406.50,422.00 C405.50,419.42 405.30,415.67 405.00,412.00 C404.70,408.33 404.62,403.50 404.70,400.00 C404.78,396.50 405.03,393.50 405.50,391.00 C405.97,388.50 406.67,386.92 407.50,385.00 C408.33,383.08 409.25,381.08 410.50,379.50 C411.75,377.92 413.62,376.42 415.00,375.50 C416.38,374.58 417.72,374.00 418.80,374.00 Z"/><path d="M451.50,369.50 C452.67,369.42 453.92,369.83 455.00,370.50 C456.08,371.17 457.17,372.25 458.00,373.50 C458.83,374.75 459.33,376.25 460.00,378.00 C460.67,379.75 461.50,381.50 462.00,384.00 C462.50,386.50 462.83,389.50 463.00,393.00 C463.17,396.50 463.17,401.50 463.00,405.00 C462.83,408.50 462.58,411.33 462.00,414.00 C461.42,416.67 461.00,419.07 459.50,421.00 C458.00,422.93 455.25,425.02 453.00,425.60 C450.75,426.18 447.83,425.43 446.00,424.50 C444.17,423.57 442.95,422.42 442.00,420.00 C441.05,417.58 440.63,413.67 440.30,410.00 C439.97,406.33 440.00,401.67 440.00,398.00 C440.00,394.33 440.05,390.83 440.30,388.00 C440.55,385.17 440.88,383.17 441.50,381.00 C442.12,378.83 442.92,376.67 444.00,375.00 C445.08,373.33 446.75,371.92 448.00,371.00 C449.25,370.08 450.33,369.58 451.50,369.50 Z"/><path d="M485.20,370.00 C486.28,370.08 487.20,370.67 488.00,371.50 C488.80,372.33 489.42,373.58 490.00,375.00 C490.58,376.42 491.08,378.17 491.50,380.00 C491.92,381.83 492.20,383.50 492.50,386.00 C492.80,388.50 493.17,391.83 493.30,395.00 C493.43,398.17 493.43,401.83 493.30,405.00 C493.17,408.17 493.05,411.33 492.50,414.00 C491.95,416.67 491.42,419.17 490.00,421.00 C488.58,422.83 486.17,424.50 484.00,425.00 C481.83,425.50 478.83,425.00 477.00,424.00 C475.17,423.00 473.88,421.67 473.00,419.00 C472.12,416.33 471.87,411.83 471.70,408.00 C471.53,404.17 471.87,399.50 472.00,396.00 C472.13,392.50 472.17,389.67 472.50,387.00 C472.83,384.33 473.17,382.08 474.00,380.00 C474.83,377.92 476.25,376.00 477.50,374.50 C478.75,373.00 480.22,371.75 481.50,371.00 C482.78,370.25 484.12,369.92 485.20,370.00 Z"/></clipPath>
<filter id="noise" x="0" y="0" width="100%" height="100%"><feTurbulence type="fractalNoise" baseFrequency="0.13 0.1" numOctaves="2" seed="7"/><feColorMatrix type="matrix" values="0 0 0 0 0  0 0 0 0 0  0 0 0 0 0  0 0 0 -2.2 1.25"/></filter>
<filter id="noise2" x="0" y="0" width="100%" height="100%"><feTurbulence type="fractalNoise" baseFrequency="0.1" numOctaves="2" seed="11"/><feColorMatrix type="matrix" values="0 0 0 0 1  0 0 0 0 1  0 0 0 0 1  0 0 0 2.4 -1.3"/></filter>
<g clip-path="url(#clipMice)"><rect x="298" y="357" width="202" height="80" filter="url(#noise)" opacity="0.28"/><rect x="298" y="357" width="202" height="80" filter="url(#noise2)" opacity="0.35"/></g>
<g filter="url(#b1)"><ellipse cx="321.6" cy="391.3" rx="6.800000000000001" ry="7.0" fill="#d4d4f6"/></g>
<g filter="url(#b1)"><ellipse cx="349.8" cy="393.6" rx="8.2" ry="8.600000000000001" fill="#d4d4f6"/></g>
<g filter="url(#b1)"><ellipse cx="349.1" cy="380.0" rx="5.6" ry="4.6" fill="#d4d4f6"/></g>
<g filter="url(#b1)"><ellipse cx="452.2" cy="397.2" rx="7.4" ry="6.800000000000001" fill="#d4d4f6"/></g>
<g filter="url(#b1)"><ellipse cx="450.3" cy="412.3" rx="5.0" ry="4.4" fill="#d4d4f6"/></g>
<g filter="url(#b1)"><ellipse cx="475.8" cy="390.5" rx="5.800000000000001" ry="9.0" fill="#d4d4f6"/></g>
<g filter="url(#b1)"><ellipse cx="484.0" cy="384.8" rx="6.2" ry="5.2" fill="#d4d4f6"/></g>
<g filter="url(#b1)"><ellipse cx="488.0" cy="386.0" rx="5.2" ry="4.800000000000001" fill="#d4d4f6"/></g>
<g filter="url(#b1)"><ellipse cx="484.0" cy="396.2" rx="5.6" ry="5.5" fill="#d4d4f6"/></g>
<g filter="url(#b1)"><ellipse cx="484.0" cy="412.5" rx="6.0" ry="4.6" fill="#d4d4f6"/></g>
<g filter="url(#b1)"><ellipse cx="471.8" cy="413.5" rx="4.800000000000001" ry="4.6" fill="#d4d4f6"/></g>
<g filter="url(#b1)"><path d="M442.5,395 C441,388 444,384.5 449,384.5 C455,384 458.5,386 458,392" fill="none" stroke="#d4d4f6" stroke-width="10"/></g>
<g filter="url(#b4)"><ellipse cx="321.6" cy="391.3" rx="3.6" ry="3.8" fill="#2c2cb8"/></g>
<g filter="url(#b4)"><ellipse cx="349.8" cy="393.6" rx="5.0" ry="5.4" fill="#2c2cb8"/></g>
<g filter="url(#b4)"><ellipse cx="349.1" cy="380.0" rx="2.4" ry="1.4" fill="#2c2cb8"/></g>
<g filter="url(#b4)"><ellipse cx="452.2" cy="397.2" rx="4.2" ry="3.6" fill="#2c2cb8"/></g>
<g filter="url(#b4)"><ellipse cx="450.3" cy="412.3" rx="1.8" ry="1.2" fill="#2c2cb8"/></g>
<g filter="url(#b4)"><ellipse cx="475.8" cy="390.5" rx="2.6" ry="5.8" fill="#2c2cb8"/></g>
<g filter="url(#b4)"><ellipse cx="484.0" cy="384.8" rx="3.0" ry="2.0" fill="#2c2cb8"/></g>
<g filter="url(#b4)"><ellipse cx="488.0" cy="386.0" rx="2.0" ry="1.6" fill="#2c2cb8"/></g>
<g filter="url(#b4)"><ellipse cx="484.0" cy="396.2" rx="2.4" ry="2.3" fill="#2c2cb8"/></g>
<g filter="url(#b4)"><ellipse cx="484.0" cy="412.5" rx="2.8" ry="1.4" fill="#2c2cb8"/></g>
<g filter="url(#b4)"><ellipse cx="471.8" cy="413.5" rx="1.6" ry="1.4" fill="#2c2cb8"/></g>
<g filter="url(#b4)"><path d="M442.5,395 C441,388 444,384.5 449,384.5 C455,384 458.5,386 458,392" fill="none" stroke="#2c2cb8" stroke-width="4.6" stroke-linecap="round"/></g>
</g>
<text x="300.00" y="430.00" font-size="8.6" fill="#f2f2f2" stroke="#f2f2f2" stroke-width="0.3">g2m1</text>
<text x="334.50" y="430.00" font-size="8.6" fill="#f2f2f2" stroke="#f2f2f2" stroke-width="0.3">g2m2</text>
<text x="369.70" y="429.40" font-size="8.6" fill="#f2f2f2" stroke="#f2f2f2" stroke-width="0.3">g2m3</text>
<text x="404.00" y="433.80" font-size="8.6" fill="#f2f2f2" stroke="#f2f2f2" stroke-width="0.3">g2m4</text>
<text x="436.70" y="433.80" font-size="8.6" fill="#f2f2f2" stroke="#f2f2f2" stroke-width="0.3">g2m5</text>
<text x="469.00" y="433.80" font-size="8.6" fill="#f2f2f2" stroke="#f2f2f2" stroke-width="0.3">g2m6</text>
<line x1="55.00" y1="509.30" x2="55.00" y2="677.60" stroke="#0a0a0a" stroke-width="1.35" />
<line x1="54.40" y1="677.00" x2="178.20" y2="677.00" stroke="#0a0a0a" stroke-width="1.35" />
<line x1="51.50" y1="677.00" x2="55.00" y2="677.00" stroke="#0a0a0a" stroke-width="1.35" />
<text x="48.50" y="680.00" font-size="8.6" letter-spacing="0.3" text-anchor="end" fill="#1a1a1a">0</text>
<line x1="51.50" y1="643.96" x2="55.00" y2="643.96" stroke="#0a0a0a" stroke-width="1.35" />
<text x="48.50" y="646.96" font-size="8.6" letter-spacing="0.3" text-anchor="end" fill="#1a1a1a">20</text>
<line x1="51.50" y1="610.92" x2="55.00" y2="610.92" stroke="#0a0a0a" stroke-width="1.35" />
<text x="48.50" y="613.92" font-size="8.6" letter-spacing="0.3" text-anchor="end" fill="#1a1a1a">40</text>
<line x1="51.50" y1="577.88" x2="55.00" y2="577.88" stroke="#0a0a0a" stroke-width="1.35" />
<text x="48.50" y="580.88" font-size="8.6" letter-spacing="0.3" text-anchor="end" fill="#1a1a1a">60</text>
<line x1="51.50" y1="544.84" x2="55.00" y2="544.84" stroke="#0a0a0a" stroke-width="1.35" />
<text x="48.50" y="547.84" font-size="8.6" letter-spacing="0.3" text-anchor="end" fill="#1a1a1a">80</text>
<line x1="51.50" y1="511.80" x2="55.00" y2="511.80" stroke="#0a0a0a" stroke-width="1.35" />
<text x="48.50" y="514.80" font-size="8.6" letter-spacing="0.3" text-anchor="end" fill="#1a1a1a">100</text>
<line x1="86.00" y1="677.00" x2="86.00" y2="680.20" stroke="#0a0a0a" stroke-width="1.35" />
<line x1="147.00" y1="677.00" x2="147.00" y2="680.20" stroke="#0a0a0a" stroke-width="1.35" />
<text x="86.00" y="692.20" font-size="8.8" text-anchor="middle" font-weight="normal" fill="#222" >Control</text>
<text x="86.00" y="702.60" font-size="8.8" text-anchor="middle" font-weight="normal" fill="#222" >ADC</text>
<text x="147.00" y="692.20" font-size="8.9" text-anchor="middle" font-weight="normal" fill="#222" >IMGN632</text>
<text x="117.60" y="498.20" font-size="9.4" text-anchor="middle" font-weight="bold" fill="#111" >Peripheral blood</text>
<polygon points="85.80,612.95 89.20,618.45 82.40,618.45" fill="none" stroke="#921b40" stroke-width="1.25" stroke-linejoin="miter"/>
<polygon points="85.40,641.69 88.80,647.19 82.00,647.19" fill="none" stroke="#921b40" stroke-width="1.25" stroke-linejoin="miter"/>
<polygon points="90.70,645.99 94.10,651.49 87.30,651.49" fill="none" stroke="#921b40" stroke-width="1.25" stroke-linejoin="miter"/>
<polygon points="80.80,652.43 84.20,657.93 77.40,657.93" fill="none" stroke="#921b40" stroke-width="1.25" stroke-linejoin="miter"/>
<polygon points="138.00,668.19 141.50,673.79 134.50,673.79" fill="#33507f"/>
<polygon points="147.20,674.47 150.70,680.07 143.70,680.07" fill="#33507f"/>
<polygon points="157.00,668.19 160.50,673.79 153.50,673.79" fill="#33507f"/>
<line x1="61.20" y1="646.44" x2="112.00" y2="646.44" stroke="#111" stroke-width="1.5" />
<line x1="122.30" y1="670.89" x2="173.10" y2="670.89" stroke="#111" stroke-width="1.5" />
<line x1="222.20" y1="509.30" x2="222.20" y2="677.60" stroke="#0a0a0a" stroke-width="1.35" />
<line x1="221.60" y1="677.00" x2="345.40" y2="677.00" stroke="#0a0a0a" stroke-width="1.35" />
<line x1="218.70" y1="677.00" x2="222.20" y2="677.00" stroke="#0a0a0a" stroke-width="1.35" />
<text x="215.70" y="680.00" font-size="8.6" letter-spacing="0.3" text-anchor="end" fill="#1a1a1a">0</text>
<line x1="218.70" y1="643.96" x2="222.20" y2="643.96" stroke="#0a0a0a" stroke-width="1.35" />
<text x="215.70" y="646.96" font-size="8.6" letter-spacing="0.3" text-anchor="end" fill="#1a1a1a">20</text>
<line x1="218.70" y1="610.92" x2="222.20" y2="610.92" stroke="#0a0a0a" stroke-width="1.35" />
<text x="215.70" y="613.92" font-size="8.6" letter-spacing="0.3" text-anchor="end" fill="#1a1a1a">40</text>
<line x1="218.70" y1="577.88" x2="222.20" y2="577.88" stroke="#0a0a0a" stroke-width="1.35" />
<text x="215.70" y="580.88" font-size="8.6" letter-spacing="0.3" text-anchor="end" fill="#1a1a1a">60</text>
<line x1="218.70" y1="544.84" x2="222.20" y2="544.84" stroke="#0a0a0a" stroke-width="1.35" />
<text x="215.70" y="547.84" font-size="8.6" letter-spacing="0.3" text-anchor="end" fill="#1a1a1a">80</text>
<line x1="218.70" y1="511.80" x2="222.20" y2="511.80" stroke="#0a0a0a" stroke-width="1.35" />
<text x="215.70" y="514.80" font-size="8.6" letter-spacing="0.3" text-anchor="end" fill="#1a1a1a">100</text>
<line x1="253.20" y1="677.00" x2="253.20" y2="680.20" stroke="#0a0a0a" stroke-width="1.35" />
<line x1="314.20" y1="677.00" x2="314.20" y2="680.20" stroke="#0a0a0a" stroke-width="1.35" />
<text x="253.20" y="692.20" font-size="8.8" text-anchor="middle" font-weight="normal" fill="#222" >Control</text>
<text x="253.20" y="702.60" font-size="8.8" text-anchor="middle" font-weight="normal" fill="#222" >ADC</text>
<text x="314.20" y="692.20" font-size="8.9" text-anchor="middle" font-weight="normal" fill="#222" >IMGN632</text>
<text x="282.30" y="498.20" font-size="9.4" text-anchor="middle" font-weight="bold" fill="#111" >Spleen</text>
<polygon points="252.60,622.86 256.00,628.36 249.20,628.36" fill="none" stroke="#921b40" stroke-width="1.25" stroke-linejoin="miter"/>
<polygon points="252.60,645.32 256.00,650.82 249.20,650.82" fill="none" stroke="#921b40" stroke-width="1.25" stroke-linejoin="miter"/>
<polygon points="257.00,659.20 260.40,664.70 253.60,664.70" fill="none" stroke="#921b40" stroke-width="1.25" stroke-linejoin="miter"/>
<polygon points="248.30,663.17 251.70,668.67 244.90,668.67" fill="none" stroke="#921b40" stroke-width="1.25" stroke-linejoin="miter"/>
<polygon points="305.80,668.36 309.30,673.96 302.30,673.96" fill="#33507f"/>
<polygon points="314.40,672.16 317.90,677.76 310.90,677.76" fill="#33507f"/>
<polygon points="323.40,669.84 326.90,675.44 319.90,675.44" fill="#33507f"/>
<line x1="227.50" y1="654.70" x2="277.80" y2="654.70" stroke="#111" stroke-width="1.5" />
<line x1="289.30" y1="671.71" x2="339.60" y2="671.71" stroke="#111" stroke-width="1.5" />
<line x1="389.20" y1="509.30" x2="389.20" y2="677.60" stroke="#0a0a0a" stroke-width="1.35" />
<line x1="388.60" y1="677.00" x2="512.40" y2="677.00" stroke="#0a0a0a" stroke-width="1.35" />
<line x1="385.70" y1="677.00" x2="389.20" y2="677.00" stroke="#0a0a0a" stroke-width="1.35" />
<text x="382.70" y="680.00" font-size="8.6" letter-spacing="0.3" text-anchor="end" fill="#1a1a1a">0</text>
<line x1="385.70" y1="643.96" x2="389.20" y2="643.96" stroke="#0a0a0a" stroke-width="1.35" />
<text x="382.70" y="646.96" font-size="8.6" letter-spacing="0.3" text-anchor="end" fill="#1a1a1a">20</text>
<line x1="385.70" y1="610.92" x2="389.20" y2="610.92" stroke="#0a0a0a" stroke-width="1.35" />
<text x="382.70" y="613.92" font-size="8.6" letter-spacing="0.3" text-anchor="end" fill="#1a1a1a">40</text>
<line x1="385.70" y1="577.88" x2="389.20" y2="577.88" stroke="#0a0a0a" stroke-width="1.35" />
<text x="382.70" y="580.88" font-size="8.6" letter-spacing="0.3" text-anchor="end" fill="#1a1a1a">60</text>
<line x1="385.70" y1="544.84" x2="389.20" y2="544.84" stroke="#0a0a0a" stroke-width="1.35" />
<text x="382.70" y="547.84" font-size="8.6" letter-spacing="0.3" text-anchor="end" fill="#1a1a1a">80</text>
<line x1="385.70" y1="511.80" x2="389.20" y2="511.80" stroke="#0a0a0a" stroke-width="1.35" />
<text x="382.70" y="514.80" font-size="8.6" letter-spacing="0.3" text-anchor="end" fill="#1a1a1a">100</text>
<line x1="420.20" y1="677.00" x2="420.20" y2="680.20" stroke="#0a0a0a" stroke-width="1.35" />
<line x1="481.20" y1="677.00" x2="481.20" y2="680.20" stroke="#0a0a0a" stroke-width="1.35" />
<text x="420.20" y="692.20" font-size="8.8" text-anchor="middle" font-weight="normal" fill="#222" >Control</text>
<text x="420.20" y="702.60" font-size="8.8" text-anchor="middle" font-weight="normal" fill="#222" >ADC</text>
<text x="481.20" y="692.20" font-size="8.9" text-anchor="middle" font-weight="normal" fill="#222" >IMGN632</text>
<text x="449.60" y="498.20" font-size="9.4" text-anchor="middle" font-weight="bold" fill="#111" >Bone marrow</text>
<polygon points="419.80,517.46 423.20,522.96 416.40,522.96" fill="none" stroke="#921b40" stroke-width="1.25" stroke-linejoin="miter"/>
<polygon points="419.80,531.34 423.20,536.84 416.40,536.84" fill="none" stroke="#921b40" stroke-width="1.25" stroke-linejoin="miter"/>
<polygon points="419.80,561.24 423.20,566.74 416.40,566.74" fill="none" stroke="#921b40" stroke-width="1.25" stroke-linejoin="miter"/>
<polygon points="419.80,635.74 423.20,641.24 416.40,641.24" fill="none" stroke="#921b40" stroke-width="1.25" stroke-linejoin="miter"/>
<polygon points="472.20,672.16 475.70,677.76 468.70,677.76" fill="#33507f"/>
<polygon points="480.10,674.30 483.60,679.90 476.60,679.90" fill="#33507f"/>
<polygon points="488.00,673.15 491.50,678.75 484.50,678.75" fill="#33507f"/>
<line x1="393.90" y1="548.97" x2="444.90" y2="548.97" stroke="#111" stroke-width="1.5" />
<line x1="455.00" y1="674.93" x2="505.30" y2="674.93" stroke="#111" stroke-width="1.5" />
<text x="27.00" y="623.70" font-size="9.0" text-anchor="start" font-weight="normal" fill="#1e1e1e" stroke="#1e1e1e" stroke-width="0.35" textLength="61.2" lengthAdjust="spacingAndGlyphs" transform="rotate(-90 27.00 623.70)">huCD45<tspan font-size="6" dy="-3">+</tspan><tspan dy="3"> cells (%)</tspan></text>
<rect x="0" y="0" width="520" height="1.45" fill="#000"/>
<rect x="0" y="0" width="1.6" height="710" fill="#000"/>
<rect x="518.5" y="0" width="1.5" height="710" fill="#000"/>
<rect x="0" y="708.2" width="520" height="1.8" fill="#000"/>
</svg>
</body></html>
